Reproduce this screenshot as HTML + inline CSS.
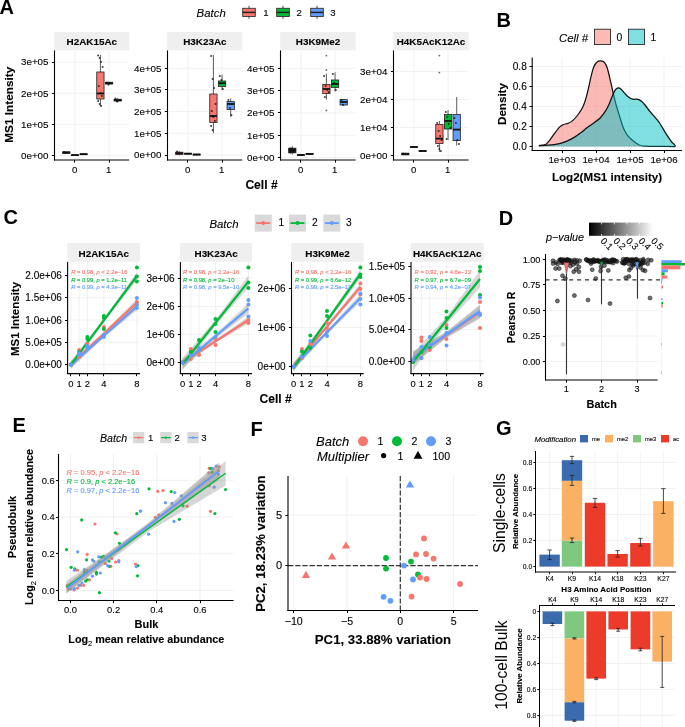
<!DOCTYPE html>
<html><head><meta charset="utf-8"><title>Figure</title>
<style>html,body{margin:0;padding:0;background:#fff;width:685px;height:727px;overflow:hidden}svg{display:block;will-change:transform}</style>
</head><body>
<svg width="685" height="727" viewBox="0 0 685 727" font-family='"Liberation Sans", sans-serif'>
<rect width="685" height="727" fill="#fff"/>
<text x="-0.6" y="13.7" font-size="20" font-weight="bold" fill="#000">A</text>
<text x="196.6" y="16.6" font-size="11.4" font-style="italic" fill="#000" stroke="#000" stroke-width="0.18" stroke-opacity="0.6">Batch</text>
<line x1="249" y1="5.8" x2="249" y2="18.8" stroke="#333" stroke-width="0.9"/>
<rect x="242.7" y="8.3" width="12.6" height="8.2" fill="#F8766D" stroke="#333" stroke-width="0.9"/>
<line x1="242.7" y1="12.4" x2="255.3" y2="12.4" stroke="#222" stroke-width="1.5"/>
<text x="263.2" y="16.4" font-size="9.6" fill="#000" stroke="#000" stroke-width="0.18" stroke-opacity="0.6">1</text>
<line x1="283" y1="5.8" x2="283" y2="18.8" stroke="#333" stroke-width="0.9"/>
<rect x="276.7" y="8.3" width="12.6" height="8.2" fill="#00BA38" stroke="#333" stroke-width="0.9"/>
<line x1="276.7" y1="12.4" x2="289.3" y2="12.4" stroke="#222" stroke-width="1.5"/>
<text x="296.6" y="16.4" font-size="9.6" fill="#000" stroke="#000" stroke-width="0.18" stroke-opacity="0.6">2</text>
<line x1="317" y1="5.8" x2="317" y2="18.8" stroke="#333" stroke-width="0.9"/>
<rect x="310.7" y="8.3" width="12.6" height="8.2" fill="#619CFF" stroke="#333" stroke-width="0.9"/>
<line x1="310.7" y1="12.4" x2="323.3" y2="12.4" stroke="#222" stroke-width="1.5"/>
<text x="330.2" y="16.4" font-size="9.6" fill="#000" stroke="#000" stroke-width="0.18" stroke-opacity="0.6">3</text>
<rect x="54.2" y="32" width="75" height="18.3" fill="#EFEFEF"/>
<text x="91.85" y="44.9" font-size="9.9" font-weight="bold" text-anchor="middle" fill="#000" stroke="#000" stroke-width="0.18" stroke-opacity="0.6">H2AK15Ac</text>
<line x1="74.95" y1="50.4" x2="74.95" y2="160" stroke="#EBEBEB" stroke-width="0.7"/>
<line x1="109.05" y1="50.4" x2="109.05" y2="160" stroke="#EBEBEB" stroke-width="0.7"/>
<line x1="54.5" y1="155.6" x2="129.2" y2="155.6" stroke="#EBEBEB" stroke-width="0.7"/>
<line x1="51.9" y1="155.5" x2="54.5" y2="155.5" stroke="#000" stroke-width="1"/>
<text x="48.5" y="159.03" font-size="9.8" text-anchor="end" fill="#000" stroke="#000" stroke-width="0.18" stroke-opacity="0.6">0e+00</text>
<line x1="54.5" y1="124.4" x2="129.2" y2="124.4" stroke="#EBEBEB" stroke-width="0.7"/>
<line x1="51.9" y1="124.5" x2="54.5" y2="124.5" stroke="#000" stroke-width="1"/>
<text x="48.5" y="127.83" font-size="9.8" text-anchor="end" fill="#000" stroke="#000" stroke-width="0.18" stroke-opacity="0.6">1e+05</text>
<line x1="54.5" y1="93.2" x2="129.2" y2="93.2" stroke="#EBEBEB" stroke-width="0.7"/>
<line x1="51.9" y1="93.5" x2="54.5" y2="93.5" stroke="#000" stroke-width="1"/>
<text x="48.5" y="96.63" font-size="9.8" text-anchor="end" fill="#000" stroke="#000" stroke-width="0.18" stroke-opacity="0.6">2e+05</text>
<line x1="54.5" y1="62" x2="129.2" y2="62" stroke="#EBEBEB" stroke-width="0.7"/>
<line x1="51.9" y1="62.5" x2="54.5" y2="62.5" stroke="#000" stroke-width="1"/>
<text x="48.5" y="65.43" font-size="9.8" text-anchor="end" fill="#000" stroke="#000" stroke-width="0.18" stroke-opacity="0.6">3e+05</text>
<line x1="66.3" y1="151.2" x2="66.3" y2="151.8" stroke="#333" stroke-width="0.8"/>
<line x1="66.3" y1="153.4" x2="66.3" y2="154" stroke="#333" stroke-width="0.8"/>
<rect x="62.65" y="151.8" width="7.3" height="1.6" fill="#F8766D" stroke="#222" stroke-width="0.8"/>
<line x1="62.65" y1="152.6" x2="69.95" y2="152.6" stroke="#111" stroke-width="1.8"/>
<circle cx="64.05" cy="152" r="1" fill="#111" fill-opacity="0.8"/>
<circle cx="65.55" cy="153" r="1" fill="#111" fill-opacity="0.8"/>
<line x1="74.95" y1="154.5" x2="74.95" y2="154.8" stroke="#333" stroke-width="0.8"/>
<line x1="74.95" y1="155.5" x2="74.95" y2="155.8" stroke="#333" stroke-width="0.8"/>
<rect x="71.3" y="154.8" width="7.3" height="0.8" fill="#00BA38" stroke="#222" stroke-width="0.8"/>
<line x1="71.3" y1="155.1" x2="78.6" y2="155.1" stroke="#111" stroke-width="1.8"/>
<line x1="83.6" y1="153.4" x2="83.6" y2="153.8" stroke="#333" stroke-width="0.8"/>
<line x1="83.6" y1="154.6" x2="83.6" y2="155" stroke="#333" stroke-width="0.8"/>
<rect x="79.95" y="153.8" width="7.3" height="0.8" fill="#619CFF" stroke="#222" stroke-width="0.8"/>
<line x1="79.95" y1="154.2" x2="87.25" y2="154.2" stroke="#111" stroke-width="1.8"/>
<line x1="100.4" y1="55" x2="100.4" y2="72" stroke="#333" stroke-width="0.8"/>
<line x1="100.4" y1="99" x2="100.4" y2="106" stroke="#333" stroke-width="0.8"/>
<rect x="96.75" y="72" width="7.3" height="27" fill="#F8766D" stroke="#222" stroke-width="0.8"/>
<line x1="96.75" y1="93.5" x2="104.05" y2="93.5" stroke="#111" stroke-width="1.8"/>
<circle cx="98.15" cy="55.5" r="1" fill="#111" fill-opacity="0.8"/>
<circle cx="99.65" cy="58" r="1" fill="#111" fill-opacity="0.8"/>
<circle cx="101.15" cy="62" r="1" fill="#111" fill-opacity="0.8"/>
<circle cx="102.65" cy="67" r="1" fill="#111" fill-opacity="0.8"/>
<circle cx="98.9" cy="86" r="1" fill="#111" fill-opacity="0.8"/>
<circle cx="100.4" cy="93" r="1" fill="#111" fill-opacity="0.8"/>
<circle cx="101.9" cy="96" r="1" fill="#111" fill-opacity="0.8"/>
<circle cx="98.15" cy="101" r="1" fill="#111" fill-opacity="0.8"/>
<circle cx="99.65" cy="104" r="1" fill="#111" fill-opacity="0.8"/>
<circle cx="101.15" cy="106" r="1" fill="#111" fill-opacity="0.8"/>
<line x1="109.05" y1="81.5" x2="109.05" y2="82.3" stroke="#333" stroke-width="0.8"/>
<line x1="109.05" y1="84" x2="109.05" y2="85.2" stroke="#333" stroke-width="0.8"/>
<rect x="105.4" y="82.3" width="7.3" height="1.7" fill="#00BA38" stroke="#222" stroke-width="0.8"/>
<line x1="105.4" y1="83.2" x2="112.7" y2="83.2" stroke="#111" stroke-width="1.8"/>
<circle cx="106.8" cy="82.6" r="1" fill="#111" fill-opacity="0.8"/>
<circle cx="108.3" cy="84.5" r="1" fill="#111" fill-opacity="0.8"/>
<line x1="117.7" y1="98" x2="117.7" y2="99.3" stroke="#333" stroke-width="0.8"/>
<line x1="117.7" y1="101" x2="117.7" y2="102.4" stroke="#333" stroke-width="0.8"/>
<rect x="114.05" y="99.3" width="7.3" height="1.7" fill="#619CFF" stroke="#222" stroke-width="0.8"/>
<line x1="114.05" y1="100.2" x2="121.35" y2="100.2" stroke="#111" stroke-width="1.8"/>
<circle cx="115.45" cy="98.6" r="1" fill="#111" fill-opacity="0.8"/>
<circle cx="116.95" cy="101.6" r="1" fill="#111" fill-opacity="0.8"/>
<line x1="54.5" y1="50.4" x2="54.5" y2="160.5" stroke="#000" stroke-width="1.1"/>
<line x1="54" y1="160" x2="129.2" y2="160" stroke="#000" stroke-width="1.1"/>
<line x1="74.5" y1="160" x2="74.5" y2="162.6" stroke="#000" stroke-width="1"/>
<text x="74.55" y="172.6" font-size="9.6" text-anchor="middle" fill="#000" stroke="#000" stroke-width="0.18" stroke-opacity="0.6">0</text>
<line x1="109.5" y1="160" x2="109.5" y2="162.6" stroke="#000" stroke-width="1"/>
<text x="108.65" y="172.6" font-size="9.6" text-anchor="middle" fill="#000" stroke="#000" stroke-width="0.18" stroke-opacity="0.6">1</text>
<rect x="167.2" y="32" width="75" height="18.3" fill="#EFEFEF"/>
<text x="204.85" y="44.9" font-size="9.9" font-weight="bold" text-anchor="middle" fill="#000" stroke="#000" stroke-width="0.18" stroke-opacity="0.6">H3K23Ac</text>
<line x1="187.95" y1="50.4" x2="187.95" y2="160" stroke="#EBEBEB" stroke-width="0.7"/>
<line x1="222.05" y1="50.4" x2="222.05" y2="160" stroke="#EBEBEB" stroke-width="0.7"/>
<line x1="167.5" y1="155" x2="242.2" y2="155" stroke="#EBEBEB" stroke-width="0.7"/>
<line x1="164.9" y1="155.5" x2="167.5" y2="155.5" stroke="#000" stroke-width="1"/>
<text x="161.5" y="158.43" font-size="9.8" text-anchor="end" fill="#000" stroke="#000" stroke-width="0.18" stroke-opacity="0.6">0e+00</text>
<line x1="167.5" y1="133.3" x2="242.2" y2="133.3" stroke="#EBEBEB" stroke-width="0.7"/>
<line x1="164.9" y1="133.5" x2="167.5" y2="133.5" stroke="#000" stroke-width="1"/>
<text x="161.5" y="136.73" font-size="9.8" text-anchor="end" fill="#000" stroke="#000" stroke-width="0.18" stroke-opacity="0.6">1e+05</text>
<line x1="167.5" y1="111.6" x2="242.2" y2="111.6" stroke="#EBEBEB" stroke-width="0.7"/>
<line x1="164.9" y1="111.5" x2="167.5" y2="111.5" stroke="#000" stroke-width="1"/>
<text x="161.5" y="115.03" font-size="9.8" text-anchor="end" fill="#000" stroke="#000" stroke-width="0.18" stroke-opacity="0.6">2e+05</text>
<line x1="167.5" y1="89.9" x2="242.2" y2="89.9" stroke="#EBEBEB" stroke-width="0.7"/>
<line x1="164.9" y1="89.5" x2="167.5" y2="89.5" stroke="#000" stroke-width="1"/>
<text x="161.5" y="93.33" font-size="9.8" text-anchor="end" fill="#000" stroke="#000" stroke-width="0.18" stroke-opacity="0.6">3e+05</text>
<line x1="167.5" y1="68.2" x2="242.2" y2="68.2" stroke="#EBEBEB" stroke-width="0.7"/>
<line x1="164.9" y1="68.5" x2="167.5" y2="68.5" stroke="#000" stroke-width="1"/>
<text x="161.5" y="71.63" font-size="9.8" text-anchor="end" fill="#000" stroke="#000" stroke-width="0.18" stroke-opacity="0.6">4e+05</text>
<line x1="179.3" y1="151" x2="179.3" y2="152.2" stroke="#333" stroke-width="0.8"/>
<line x1="179.3" y1="154.4" x2="179.3" y2="155.4" stroke="#333" stroke-width="0.8"/>
<rect x="175.65" y="152.2" width="7.3" height="2.2" fill="#F8766D" stroke="#222" stroke-width="0.8"/>
<line x1="175.65" y1="153.2" x2="182.95" y2="153.2" stroke="#111" stroke-width="1.8"/>
<circle cx="177.05" cy="151.4" r="1" fill="#111" fill-opacity="0.8"/>
<line x1="187.95" y1="153" x2="187.95" y2="153.3" stroke="#333" stroke-width="0.8"/>
<line x1="187.95" y1="154.1" x2="187.95" y2="154.4" stroke="#333" stroke-width="0.8"/>
<rect x="184.3" y="153.3" width="7.3" height="0.8" fill="#00BA38" stroke="#222" stroke-width="0.8"/>
<line x1="184.3" y1="153.7" x2="191.6" y2="153.7" stroke="#111" stroke-width="1.8"/>
<line x1="196.6" y1="154" x2="196.6" y2="154.2" stroke="#333" stroke-width="0.8"/>
<line x1="196.6" y1="154.9" x2="196.6" y2="155.2" stroke="#333" stroke-width="0.8"/>
<rect x="192.95" y="154.2" width="7.3" height="0.8" fill="#619CFF" stroke="#222" stroke-width="0.8"/>
<line x1="192.95" y1="154.5" x2="200.25" y2="154.5" stroke="#111" stroke-width="1.8"/>
<line x1="213.4" y1="55" x2="213.4" y2="94" stroke="#333" stroke-width="0.8"/>
<line x1="213.4" y1="122.4" x2="213.4" y2="133" stroke="#333" stroke-width="0.8"/>
<rect x="209.75" y="94" width="7.3" height="28.4" fill="#F8766D" stroke="#222" stroke-width="0.8"/>
<line x1="209.75" y1="116" x2="217.05" y2="116" stroke="#111" stroke-width="1.8"/>
<circle cx="211.15" cy="56" r="1" fill="#111" fill-opacity="0.8"/>
<circle cx="212.65" cy="79" r="1" fill="#111" fill-opacity="0.8"/>
<circle cx="214.15" cy="88" r="1" fill="#111" fill-opacity="0.8"/>
<circle cx="215.65" cy="104" r="1" fill="#111" fill-opacity="0.8"/>
<circle cx="211.9" cy="111" r="1" fill="#111" fill-opacity="0.8"/>
<circle cx="213.4" cy="117" r="1" fill="#111" fill-opacity="0.8"/>
<circle cx="214.9" cy="121" r="1" fill="#111" fill-opacity="0.8"/>
<circle cx="211.15" cy="126" r="1" fill="#111" fill-opacity="0.8"/>
<circle cx="212.65" cy="130" r="1" fill="#111" fill-opacity="0.8"/>
<line x1="222.05" y1="74.6" x2="222.05" y2="81" stroke="#333" stroke-width="0.8"/>
<line x1="222.05" y1="86.4" x2="222.05" y2="90" stroke="#333" stroke-width="0.8"/>
<rect x="218.4" y="81" width="7.3" height="5.4" fill="#00BA38" stroke="#222" stroke-width="0.8"/>
<line x1="218.4" y1="83.2" x2="225.7" y2="83.2" stroke="#111" stroke-width="1.8"/>
<circle cx="219.8" cy="76" r="1" fill="#111" fill-opacity="0.8"/>
<circle cx="221.3" cy="80" r="1" fill="#111" fill-opacity="0.8"/>
<circle cx="222.8" cy="89" r="1" fill="#111" fill-opacity="0.8"/>
<line x1="230.7" y1="98.4" x2="230.7" y2="101.6" stroke="#333" stroke-width="0.8"/>
<line x1="230.7" y1="109.6" x2="230.7" y2="117" stroke="#333" stroke-width="0.8"/>
<rect x="227.05" y="101.6" width="7.3" height="8" fill="#619CFF" stroke="#222" stroke-width="0.8"/>
<line x1="227.05" y1="104" x2="234.35" y2="104" stroke="#111" stroke-width="1.8"/>
<circle cx="228.45" cy="100" r="1" fill="#111" fill-opacity="0.8"/>
<circle cx="229.95" cy="108" r="1" fill="#111" fill-opacity="0.8"/>
<circle cx="231.45" cy="115" r="1" fill="#111" fill-opacity="0.8"/>
<line x1="167.5" y1="50.4" x2="167.5" y2="160.5" stroke="#000" stroke-width="1.1"/>
<line x1="167" y1="160" x2="242.2" y2="160" stroke="#000" stroke-width="1.1"/>
<line x1="187.5" y1="160" x2="187.5" y2="162.6" stroke="#000" stroke-width="1"/>
<text x="187.55" y="172.6" font-size="9.6" text-anchor="middle" fill="#000" stroke="#000" stroke-width="0.18" stroke-opacity="0.6">0</text>
<line x1="222.5" y1="160" x2="222.5" y2="162.6" stroke="#000" stroke-width="1"/>
<text x="221.65" y="172.6" font-size="9.6" text-anchor="middle" fill="#000" stroke="#000" stroke-width="0.18" stroke-opacity="0.6">1</text>
<rect x="280.2" y="32" width="75.4" height="18.3" fill="#EFEFEF"/>
<text x="318.05" y="44.9" font-size="9.9" font-weight="bold" text-anchor="middle" fill="#000" stroke="#000" stroke-width="0.18" stroke-opacity="0.6">H3K9Me2</text>
<line x1="300.95" y1="50.4" x2="300.95" y2="160" stroke="#EBEBEB" stroke-width="0.7"/>
<line x1="335.05" y1="50.4" x2="335.05" y2="160" stroke="#EBEBEB" stroke-width="0.7"/>
<line x1="280.5" y1="157.5" x2="355.6" y2="157.5" stroke="#EBEBEB" stroke-width="0.7"/>
<line x1="277.9" y1="157.5" x2="280.5" y2="157.5" stroke="#000" stroke-width="1"/>
<text x="274.5" y="160.93" font-size="9.8" text-anchor="end" fill="#000" stroke="#000" stroke-width="0.18" stroke-opacity="0.6">0e+00</text>
<line x1="280.5" y1="135.2" x2="355.6" y2="135.2" stroke="#EBEBEB" stroke-width="0.7"/>
<line x1="277.9" y1="135.5" x2="280.5" y2="135.5" stroke="#000" stroke-width="1"/>
<text x="274.5" y="138.63" font-size="9.8" text-anchor="end" fill="#000" stroke="#000" stroke-width="0.18" stroke-opacity="0.6">1e+05</text>
<line x1="280.5" y1="112.9" x2="355.6" y2="112.9" stroke="#EBEBEB" stroke-width="0.7"/>
<line x1="277.9" y1="112.5" x2="280.5" y2="112.5" stroke="#000" stroke-width="1"/>
<text x="274.5" y="116.33" font-size="9.8" text-anchor="end" fill="#000" stroke="#000" stroke-width="0.18" stroke-opacity="0.6">2e+05</text>
<line x1="280.5" y1="90.6" x2="355.6" y2="90.6" stroke="#EBEBEB" stroke-width="0.7"/>
<line x1="277.9" y1="90.5" x2="280.5" y2="90.5" stroke="#000" stroke-width="1"/>
<text x="274.5" y="94.03" font-size="9.8" text-anchor="end" fill="#000" stroke="#000" stroke-width="0.18" stroke-opacity="0.6">3e+05</text>
<line x1="280.5" y1="68.3" x2="355.6" y2="68.3" stroke="#EBEBEB" stroke-width="0.7"/>
<line x1="277.9" y1="68.5" x2="280.5" y2="68.5" stroke="#000" stroke-width="1"/>
<text x="274.5" y="71.73" font-size="9.8" text-anchor="end" fill="#000" stroke="#000" stroke-width="0.18" stroke-opacity="0.6">4e+05</text>
<line x1="292.3" y1="146.1" x2="292.3" y2="148.2" stroke="#333" stroke-width="0.8"/>
<line x1="292.3" y1="152.8" x2="292.3" y2="154.6" stroke="#333" stroke-width="0.8"/>
<rect x="288.65" y="148.2" width="7.3" height="4.6" fill="#3a2624" stroke="#222" stroke-width="0.8"/>
<line x1="288.65" y1="150.4" x2="295.95" y2="150.4" stroke="#111" stroke-width="1.8"/>
<circle cx="290.05" cy="148.4" r="1" fill="#111" fill-opacity="0.8"/>
<circle cx="291.55" cy="149" r="1" fill="#111" fill-opacity="0.8"/>
<circle cx="293.05" cy="149.6" r="1" fill="#111" fill-opacity="0.8"/>
<circle cx="294.55" cy="150.2" r="1" fill="#111" fill-opacity="0.8"/>
<circle cx="290.8" cy="150.8" r="1" fill="#111" fill-opacity="0.8"/>
<circle cx="292.3" cy="151.4" r="1" fill="#111" fill-opacity="0.8"/>
<circle cx="293.8" cy="152" r="1" fill="#111" fill-opacity="0.8"/>
<circle cx="290.05" cy="152.6" r="1" fill="#111" fill-opacity="0.8"/>
<circle cx="291.55" cy="148.8" r="1" fill="#111" fill-opacity="0.8"/>
<circle cx="293.05" cy="151" r="1" fill="#111" fill-opacity="0.8"/>
<circle cx="294.55" cy="149.4" r="1" fill="#111" fill-opacity="0.8"/>
<circle cx="290.8" cy="152.2" r="1" fill="#111" fill-opacity="0.8"/>
<circle cx="292.3" cy="150" r="1" fill="#111" fill-opacity="0.8"/>
<circle cx="293.8" cy="151.8" r="1" fill="#111" fill-opacity="0.8"/>
<line x1="300.95" y1="154.3" x2="300.95" y2="154.6" stroke="#333" stroke-width="0.8"/>
<line x1="300.95" y1="155.4" x2="300.95" y2="155.7" stroke="#333" stroke-width="0.8"/>
<rect x="297.3" y="154.6" width="7.3" height="0.8" fill="#00BA38" stroke="#222" stroke-width="0.8"/>
<line x1="297.3" y1="155" x2="304.6" y2="155" stroke="#111" stroke-width="1.8"/>
<line x1="309.6" y1="153.3" x2="309.6" y2="153.6" stroke="#333" stroke-width="0.8"/>
<line x1="309.6" y1="154.4" x2="309.6" y2="154.7" stroke="#333" stroke-width="0.8"/>
<rect x="305.95" y="153.6" width="7.3" height="0.8" fill="#619CFF" stroke="#222" stroke-width="0.8"/>
<line x1="305.95" y1="154" x2="313.25" y2="154" stroke="#111" stroke-width="1.8"/>
<line x1="326.4" y1="73.6" x2="326.4" y2="84.4" stroke="#333" stroke-width="0.8"/>
<line x1="326.4" y1="93.6" x2="326.4" y2="99.6" stroke="#333" stroke-width="0.8"/>
<rect x="322.75" y="84.4" width="7.3" height="9.2" fill="#F8766D" stroke="#222" stroke-width="0.8"/>
<line x1="322.75" y1="89" x2="330.05" y2="89" stroke="#111" stroke-width="1.8"/>
<circle cx="326.4" cy="55.6" r="0.9" fill="#666"/>
<circle cx="326.4" cy="70" r="0.9" fill="#666"/>
<circle cx="326.4" cy="110.4" r="0.9" fill="#666"/>
<circle cx="324.15" cy="76" r="1" fill="#111" fill-opacity="0.8"/>
<circle cx="325.65" cy="86" r="1" fill="#111" fill-opacity="0.8"/>
<circle cx="327.15" cy="90" r="1" fill="#111" fill-opacity="0.8"/>
<circle cx="328.65" cy="92" r="1" fill="#111" fill-opacity="0.8"/>
<circle cx="324.9" cy="97" r="1" fill="#111" fill-opacity="0.8"/>
<line x1="335.05" y1="72.4" x2="335.05" y2="80" stroke="#333" stroke-width="0.8"/>
<line x1="335.05" y1="87.4" x2="335.05" y2="91.6" stroke="#333" stroke-width="0.8"/>
<rect x="331.4" y="80" width="7.3" height="7.4" fill="#00BA38" stroke="#222" stroke-width="0.8"/>
<line x1="331.4" y1="84" x2="338.7" y2="84" stroke="#111" stroke-width="1.8"/>
<circle cx="332.8" cy="74" r="1" fill="#111" fill-opacity="0.8"/>
<circle cx="334.3" cy="83" r="1" fill="#111" fill-opacity="0.8"/>
<circle cx="335.8" cy="90" r="1" fill="#111" fill-opacity="0.8"/>
<line x1="343.7" y1="99" x2="343.7" y2="99.6" stroke="#333" stroke-width="0.8"/>
<line x1="343.7" y1="105" x2="343.7" y2="106" stroke="#333" stroke-width="0.8"/>
<rect x="340.05" y="99.6" width="7.3" height="5.4" fill="#619CFF" stroke="#222" stroke-width="0.8"/>
<line x1="340.05" y1="102" x2="347.35" y2="102" stroke="#111" stroke-width="1.8"/>
<circle cx="341.45" cy="100" r="1" fill="#111" fill-opacity="0.8"/>
<circle cx="342.95" cy="104.8" r="1" fill="#111" fill-opacity="0.8"/>
<line x1="280.5" y1="50.4" x2="280.5" y2="160.5" stroke="#000" stroke-width="1.1"/>
<line x1="280" y1="160" x2="355.6" y2="160" stroke="#000" stroke-width="1.1"/>
<line x1="300.5" y1="160" x2="300.5" y2="162.6" stroke="#000" stroke-width="1"/>
<text x="300.55" y="172.6" font-size="9.6" text-anchor="middle" fill="#000" stroke="#000" stroke-width="0.18" stroke-opacity="0.6">0</text>
<line x1="335.5" y1="160" x2="335.5" y2="162.6" stroke="#000" stroke-width="1"/>
<text x="334.65" y="172.6" font-size="9.6" text-anchor="middle" fill="#000" stroke="#000" stroke-width="0.18" stroke-opacity="0.6">1</text>
<rect x="393.2" y="32" width="75.4" height="18.3" fill="#EFEFEF"/>
<text x="431.05" y="44.9" font-size="9.9" font-weight="bold" text-anchor="middle" fill="#000" stroke="#000" stroke-width="0.18" stroke-opacity="0.6">H4K5AcK12Ac</text>
<line x1="413.95" y1="50.4" x2="413.95" y2="160" stroke="#EBEBEB" stroke-width="0.7"/>
<line x1="448.05" y1="50.4" x2="448.05" y2="160" stroke="#EBEBEB" stroke-width="0.7"/>
<line x1="393.5" y1="155.6" x2="468.6" y2="155.6" stroke="#EBEBEB" stroke-width="0.7"/>
<line x1="390.9" y1="155.5" x2="393.5" y2="155.5" stroke="#000" stroke-width="1"/>
<text x="387.5" y="159.03" font-size="9.8" text-anchor="end" fill="#000" stroke="#000" stroke-width="0.18" stroke-opacity="0.6">0e+00</text>
<line x1="393.5" y1="127.6" x2="468.6" y2="127.6" stroke="#EBEBEB" stroke-width="0.7"/>
<line x1="390.9" y1="127.5" x2="393.5" y2="127.5" stroke="#000" stroke-width="1"/>
<text x="387.5" y="131.03" font-size="9.8" text-anchor="end" fill="#000" stroke="#000" stroke-width="0.18" stroke-opacity="0.6">1e+04</text>
<line x1="393.5" y1="99.6" x2="468.6" y2="99.6" stroke="#EBEBEB" stroke-width="0.7"/>
<line x1="390.9" y1="99.5" x2="393.5" y2="99.5" stroke="#000" stroke-width="1"/>
<text x="387.5" y="103.03" font-size="9.8" text-anchor="end" fill="#000" stroke="#000" stroke-width="0.18" stroke-opacity="0.6">2e+04</text>
<line x1="393.5" y1="71.6" x2="468.6" y2="71.6" stroke="#EBEBEB" stroke-width="0.7"/>
<line x1="390.9" y1="71.5" x2="393.5" y2="71.5" stroke="#000" stroke-width="1"/>
<text x="387.5" y="75.03" font-size="9.8" text-anchor="end" fill="#000" stroke="#000" stroke-width="0.18" stroke-opacity="0.6">3e+04</text>
<line x1="405.3" y1="152.8" x2="405.3" y2="153.2" stroke="#333" stroke-width="0.8"/>
<line x1="405.3" y1="154.8" x2="405.3" y2="155.2" stroke="#333" stroke-width="0.8"/>
<rect x="401.65" y="153.2" width="7.3" height="1.6" fill="#F8766D" stroke="#222" stroke-width="0.8"/>
<line x1="401.65" y1="154" x2="408.95" y2="154" stroke="#111" stroke-width="1.8"/>
<circle cx="403.05" cy="153.5" r="1" fill="#111" fill-opacity="0.8"/>
<line x1="413.95" y1="146.4" x2="413.95" y2="146.6" stroke="#333" stroke-width="0.8"/>
<line x1="413.95" y1="147.4" x2="413.95" y2="147.6" stroke="#333" stroke-width="0.8"/>
<rect x="410.3" y="146.6" width="7.3" height="0.8" fill="#00BA38" stroke="#222" stroke-width="0.8"/>
<line x1="410.3" y1="147" x2="417.6" y2="147" stroke="#111" stroke-width="1.8"/>
<line x1="422.6" y1="150.4" x2="422.6" y2="150.6" stroke="#333" stroke-width="0.8"/>
<line x1="422.6" y1="151.4" x2="422.6" y2="151.6" stroke="#333" stroke-width="0.8"/>
<rect x="418.95" y="150.6" width="7.3" height="0.8" fill="#619CFF" stroke="#222" stroke-width="0.8"/>
<line x1="418.95" y1="151" x2="426.25" y2="151" stroke="#111" stroke-width="1.8"/>
<line x1="439.4" y1="121" x2="439.4" y2="124.4" stroke="#333" stroke-width="0.8"/>
<line x1="439.4" y1="143.4" x2="439.4" y2="152" stroke="#333" stroke-width="0.8"/>
<rect x="435.75" y="124.4" width="7.3" height="19" fill="#F8766D" stroke="#222" stroke-width="0.8"/>
<line x1="435.75" y1="138.6" x2="443.05" y2="138.6" stroke="#111" stroke-width="1.8"/>
<circle cx="439.4" cy="55.6" r="0.9" fill="#666"/>
<circle cx="439.4" cy="72.6" r="0.9" fill="#666"/>
<circle cx="437.15" cy="123" r="1" fill="#111" fill-opacity="0.8"/>
<circle cx="438.65" cy="131" r="1" fill="#111" fill-opacity="0.8"/>
<circle cx="440.15" cy="136" r="1" fill="#111" fill-opacity="0.8"/>
<circle cx="441.65" cy="140" r="1" fill="#111" fill-opacity="0.8"/>
<circle cx="437.9" cy="146" r="1" fill="#111" fill-opacity="0.8"/>
<circle cx="439.4" cy="149" r="1" fill="#111" fill-opacity="0.8"/>
<circle cx="440.9" cy="151" r="1" fill="#111" fill-opacity="0.8"/>
<line x1="448.05" y1="110" x2="448.05" y2="114.4" stroke="#333" stroke-width="0.8"/>
<line x1="448.05" y1="129" x2="448.05" y2="140" stroke="#333" stroke-width="0.8"/>
<rect x="444.4" y="114.4" width="7.3" height="14.6" fill="#00BA38" stroke="#222" stroke-width="0.8"/>
<line x1="444.4" y1="121" x2="451.7" y2="121" stroke="#111" stroke-width="1.8"/>
<circle cx="445.8" cy="112" r="1" fill="#111" fill-opacity="0.8"/>
<circle cx="447.3" cy="117" r="1" fill="#111" fill-opacity="0.8"/>
<circle cx="448.8" cy="124" r="1" fill="#111" fill-opacity="0.8"/>
<circle cx="450.3" cy="128" r="1" fill="#111" fill-opacity="0.8"/>
<circle cx="446.55" cy="139" r="1" fill="#111" fill-opacity="0.8"/>
<line x1="456.7" y1="97" x2="456.7" y2="114.4" stroke="#333" stroke-width="0.8"/>
<line x1="456.7" y1="140.6" x2="456.7" y2="145.6" stroke="#333" stroke-width="0.8"/>
<rect x="453.05" y="114.4" width="7.3" height="26.2" fill="#619CFF" stroke="#222" stroke-width="0.8"/>
<line x1="453.05" y1="129.6" x2="460.35" y2="129.6" stroke="#111" stroke-width="1.8"/>
<circle cx="454.45" cy="118" r="1" fill="#111" fill-opacity="0.8"/>
<circle cx="455.95" cy="123" r="1" fill="#111" fill-opacity="0.8"/>
<circle cx="457.45" cy="140" r="1" fill="#111" fill-opacity="0.8"/>
<circle cx="458.95" cy="144" r="1" fill="#111" fill-opacity="0.8"/>
<line x1="393.5" y1="50.4" x2="393.5" y2="160.5" stroke="#000" stroke-width="1.1"/>
<line x1="393" y1="160" x2="468.6" y2="160" stroke="#000" stroke-width="1.1"/>
<line x1="413.5" y1="160" x2="413.5" y2="162.6" stroke="#000" stroke-width="1"/>
<text x="413.55" y="172.6" font-size="9.6" text-anchor="middle" fill="#000" stroke="#000" stroke-width="0.18" stroke-opacity="0.6">0</text>
<line x1="448.5" y1="160" x2="448.5" y2="162.6" stroke="#000" stroke-width="1"/>
<text x="447.65" y="172.6" font-size="9.6" text-anchor="middle" fill="#000" stroke="#000" stroke-width="0.18" stroke-opacity="0.6">1</text>
<text x="13.2" y="104.8" font-size="11.8" font-weight="bold" text-anchor="middle" fill="#000" stroke="#000" stroke-width="0.18" stroke-opacity="0.6" transform="rotate(-90 13.2 104.8)">MS1 Intensity</text>
<text x="245.4" y="188.9" font-size="12.1" font-weight="bold" fill="#000" stroke="#000" stroke-width="0.18" stroke-opacity="0.6">Cell #</text>
<text x="496.4" y="27" font-size="20" font-weight="bold" fill="#000">B</text>
<text x="559" y="41.6" font-size="11.4" font-style="italic" fill="#000" stroke="#000" stroke-width="0.18" stroke-opacity="0.6">Cell #</text>
<rect x="594.6" y="29.2" width="16" height="15.4" fill="#FBBAB6" stroke="#111" stroke-width="0.8"/>
<text x="616.6" y="41" font-size="10.3" fill="#000" stroke="#000" stroke-width="0.18" stroke-opacity="0.6">0</text>
<rect x="628.6" y="29.2" width="16" height="15.4" fill="#7FDFE1" stroke="#111" stroke-width="0.8"/>
<text x="650.4" y="41" font-size="10.3" fill="#000" stroke="#000" stroke-width="0.18" stroke-opacity="0.6">1</text>
<line x1="562" y1="57.4" x2="562" y2="150.5" stroke="#EBEBEB" stroke-width="0.7"/>
<line x1="596" y1="57.4" x2="596" y2="150.5" stroke="#EBEBEB" stroke-width="0.7"/>
<line x1="630" y1="57.4" x2="630" y2="150.5" stroke="#EBEBEB" stroke-width="0.7"/>
<line x1="664" y1="57.4" x2="664" y2="150.5" stroke="#EBEBEB" stroke-width="0.7"/>
<line x1="532.2" y1="146.6" x2="682" y2="146.6" stroke="#EBEBEB" stroke-width="0.7"/>
<line x1="532.2" y1="126.6" x2="682" y2="126.6" stroke="#EBEBEB" stroke-width="0.7"/>
<line x1="532.2" y1="106.6" x2="682" y2="106.6" stroke="#EBEBEB" stroke-width="0.7"/>
<line x1="532.2" y1="86.6" x2="682" y2="86.6" stroke="#EBEBEB" stroke-width="0.7"/>
<line x1="532.2" y1="66.6" x2="682" y2="66.6" stroke="#EBEBEB" stroke-width="0.7"/>
<path d="M538.9 145.6 C540 145.42 543.75 145.33 545.5 144.5 C547.25 143.67 547.88 142.45 549.4 140.6 C550.92 138.75 552.87 135.68 554.6 133.4 C556.33 131.12 558.38 128.35 559.8 126.9 C561.22 125.45 561.68 125.32 563.1 124.7 C564.52 124.08 566.67 123.92 568.3 123.2 C569.93 122.48 571.27 121.85 572.9 120.4 C574.53 118.95 576.47 116.68 578.1 114.5 C579.73 112.32 581.38 110.03 582.7 107.3 C584.02 104.57 585.02 101.37 586 98.1 C586.98 94.83 587.73 91.4 588.6 87.7 C589.47 84 590.33 79.38 591.2 75.9 C592.07 72.42 592.77 69.15 593.8 66.8 C594.83 64.45 596.2 62.78 597.4 61.8 C598.6 60.82 599.8 60.77 601 60.9 C602.2 61.03 603.53 61.33 604.6 62.6 C605.67 63.87 606.42 65.42 607.4 68.5 C608.38 71.58 609.55 77.03 610.5 81.1 C611.45 85.17 612.23 89.18 613.1 92.9 C613.97 96.62 614.62 99.48 615.7 103.4 C616.78 107.32 618.3 112.27 619.6 116.4 C620.9 120.53 622.18 125.03 623.5 128.2 C624.82 131.37 625.97 133.33 627.5 135.4 C629.03 137.47 630.75 139 632.7 140.6 C634.65 142.2 637.02 144.08 639.2 145 C641.38 145.92 642.33 145.87 645.8 146.1 C649.27 146.33 655.1 146.33 660 146.4 C664.9 146.47 672.67 146.48 675.2 146.5 L675.6 146.6 L538.9 146.6 Z" fill="#F8766D" fill-opacity="0.5"/>
<path d="M538.9 145.6 C540 145.42 543.75 145.33 545.5 144.5 C547.25 143.67 547.88 142.45 549.4 140.6 C550.92 138.75 552.87 135.68 554.6 133.4 C556.33 131.12 558.38 128.35 559.8 126.9 C561.22 125.45 561.68 125.32 563.1 124.7 C564.52 124.08 566.67 123.92 568.3 123.2 C569.93 122.48 571.27 121.85 572.9 120.4 C574.53 118.95 576.47 116.68 578.1 114.5 C579.73 112.32 581.38 110.03 582.7 107.3 C584.02 104.57 585.02 101.37 586 98.1 C586.98 94.83 587.73 91.4 588.6 87.7 C589.47 84 590.33 79.38 591.2 75.9 C592.07 72.42 592.77 69.15 593.8 66.8 C594.83 64.45 596.2 62.78 597.4 61.8 C598.6 60.82 599.8 60.77 601 60.9 C602.2 61.03 603.53 61.33 604.6 62.6 C605.67 63.87 606.42 65.42 607.4 68.5 C608.38 71.58 609.55 77.03 610.5 81.1 C611.45 85.17 612.23 89.18 613.1 92.9 C613.97 96.62 614.62 99.48 615.7 103.4 C616.78 107.32 618.3 112.27 619.6 116.4 C620.9 120.53 622.18 125.03 623.5 128.2 C624.82 131.37 625.97 133.33 627.5 135.4 C629.03 137.47 630.75 139 632.7 140.6 C634.65 142.2 637.02 144.08 639.2 145 C641.38 145.92 642.33 145.87 645.8 146.1 C649.27 146.33 655.1 146.33 660 146.4 C664.9 146.47 672.67 146.48 675.2 146.5" fill="none" stroke="#111" stroke-width="1.25"/>
<path d="M538.9 145.6 C540.42 145.53 544.73 145.48 548 145.2 C551.27 144.92 555.43 144.55 558.5 143.9 C561.57 143.25 563.78 142.38 566.4 141.3 C569.02 140.22 571.8 138.82 574.2 137.4 C576.6 135.98 578.62 134.45 580.8 132.8 C582.98 131.15 585.13 129.13 587.3 127.5 C589.47 125.87 591.62 124.63 593.8 123 C595.98 121.37 598.47 119.67 600.4 117.7 C602.33 115.73 603.9 113.58 605.4 111.2 C606.9 108.82 608.12 106.23 609.4 103.4 C610.68 100.57 612.05 96.53 613.1 94.2 C614.15 91.87 614.83 90.47 615.7 89.4 C616.57 88.33 617.43 87.87 618.3 87.8 C619.17 87.73 619.82 88.07 620.9 89 C621.98 89.93 623.48 92.02 624.8 93.4 C626.12 94.78 627.48 96.33 628.8 97.3 C630.12 98.27 631.18 98.87 632.7 99.2 C634.22 99.53 636.38 98.93 637.9 99.3 C639.42 99.67 640.48 100.28 641.8 101.4 C643.12 102.52 644.48 104.37 645.8 106 C647.12 107.63 648.18 109.35 649.7 111.2 C651.22 113.05 653.38 115.32 654.9 117.1 C656.42 118.88 657.5 120.05 658.8 121.9 C660.1 123.75 661.38 126.07 662.7 128.2 C664.02 130.33 665.28 132.52 666.7 134.7 C668.12 136.88 669.92 139.65 671.2 141.3 C672.48 142.95 673.67 143.77 674.4 144.6 C675.13 145.43 675.4 146.02 675.6 146.3 L675.6 146.6 L538.9 146.6 Z" fill="#00BFC4" fill-opacity="0.5"/>
<path d="M538.9 145.6 C540.42 145.53 544.73 145.48 548 145.2 C551.27 144.92 555.43 144.55 558.5 143.9 C561.57 143.25 563.78 142.38 566.4 141.3 C569.02 140.22 571.8 138.82 574.2 137.4 C576.6 135.98 578.62 134.45 580.8 132.8 C582.98 131.15 585.13 129.13 587.3 127.5 C589.47 125.87 591.62 124.63 593.8 123 C595.98 121.37 598.47 119.67 600.4 117.7 C602.33 115.73 603.9 113.58 605.4 111.2 C606.9 108.82 608.12 106.23 609.4 103.4 C610.68 100.57 612.05 96.53 613.1 94.2 C614.15 91.87 614.83 90.47 615.7 89.4 C616.57 88.33 617.43 87.87 618.3 87.8 C619.17 87.73 619.82 88.07 620.9 89 C621.98 89.93 623.48 92.02 624.8 93.4 C626.12 94.78 627.48 96.33 628.8 97.3 C630.12 98.27 631.18 98.87 632.7 99.2 C634.22 99.53 636.38 98.93 637.9 99.3 C639.42 99.67 640.48 100.28 641.8 101.4 C643.12 102.52 644.48 104.37 645.8 106 C647.12 107.63 648.18 109.35 649.7 111.2 C651.22 113.05 653.38 115.32 654.9 117.1 C656.42 118.88 657.5 120.05 658.8 121.9 C660.1 123.75 661.38 126.07 662.7 128.2 C664.02 130.33 665.28 132.52 666.7 134.7 C668.12 136.88 669.92 139.65 671.2 141.3 C672.48 142.95 673.67 143.77 674.4 144.6 C675.13 145.43 675.4 146.02 675.6 146.3" fill="none" stroke="#111" stroke-width="1.25"/>
<line x1="532.2" y1="57.4" x2="532.2" y2="151" stroke="#000" stroke-width="1.1"/>
<line x1="531.7" y1="150.5" x2="682" y2="150.5" stroke="#000" stroke-width="1.1"/>
<line x1="529.6" y1="146.5" x2="532.2" y2="146.5" stroke="#000" stroke-width="1"/>
<text x="526.8" y="150.13" font-size="10.1" text-anchor="end" fill="#000" stroke="#000" stroke-width="0.18" stroke-opacity="0.6">0.0</text>
<line x1="529.6" y1="126.5" x2="532.2" y2="126.5" stroke="#000" stroke-width="1"/>
<text x="526.8" y="130.13" font-size="10.1" text-anchor="end" fill="#000" stroke="#000" stroke-width="0.18" stroke-opacity="0.6">0.2</text>
<line x1="529.6" y1="106.5" x2="532.2" y2="106.5" stroke="#000" stroke-width="1"/>
<text x="526.8" y="110.13" font-size="10.1" text-anchor="end" fill="#000" stroke="#000" stroke-width="0.18" stroke-opacity="0.6">0.4</text>
<line x1="529.6" y1="86.5" x2="532.2" y2="86.5" stroke="#000" stroke-width="1"/>
<text x="526.8" y="90.13" font-size="10.1" text-anchor="end" fill="#000" stroke="#000" stroke-width="0.18" stroke-opacity="0.6">0.6</text>
<line x1="529.6" y1="66.5" x2="532.2" y2="66.5" stroke="#000" stroke-width="1"/>
<text x="526.8" y="70.13" font-size="10.1" text-anchor="end" fill="#000" stroke="#000" stroke-width="0.18" stroke-opacity="0.6">0.8</text>
<line x1="562.5" y1="150.5" x2="562.5" y2="153.1" stroke="#000" stroke-width="1"/>
<text x="562" y="162.9" font-size="9.7" text-anchor="middle" fill="#000" stroke="#000" stroke-width="0.18" stroke-opacity="0.6">1e+03</text>
<line x1="596.5" y1="150.5" x2="596.5" y2="153.1" stroke="#000" stroke-width="1"/>
<text x="596" y="162.9" font-size="9.7" text-anchor="middle" fill="#000" stroke="#000" stroke-width="0.18" stroke-opacity="0.6">1e+04</text>
<line x1="630.5" y1="150.5" x2="630.5" y2="153.1" stroke="#000" stroke-width="1"/>
<text x="630" y="162.9" font-size="9.7" text-anchor="middle" fill="#000" stroke="#000" stroke-width="0.18" stroke-opacity="0.6">1e+05</text>
<line x1="664.5" y1="150.5" x2="664.5" y2="153.1" stroke="#000" stroke-width="1"/>
<text x="664" y="162.9" font-size="9.7" text-anchor="middle" fill="#000" stroke="#000" stroke-width="0.18" stroke-opacity="0.6">1e+06</text>
<text x="505.7" y="104" font-size="11.6" font-weight="bold" text-anchor="middle" fill="#000" stroke="#000" stroke-width="0.18" stroke-opacity="0.6" transform="rotate(-90 505.7 104)">Density</text>
<text x="607" y="180.8" font-size="11.6" font-weight="bold" text-anchor="middle" fill="#000" stroke="#000" stroke-width="0.18" stroke-opacity="0.6">Log2(MS1 intensity)</text>
<text x="3.5" y="224.2" font-size="20" font-weight="bold" fill="#000">C</text>
<text x="209.4" y="227.6" font-size="11.4" font-style="italic" fill="#000" stroke="#000" stroke-width="0.18" stroke-opacity="0.6">Batch</text>
<rect x="254.8" y="214.6" width="17" height="17" fill="#D9D9D9"/>
<line x1="256.3" y1="223.1" x2="270.3" y2="223.1" stroke="#F8766D" stroke-width="1.8"/>
<circle cx="263.3" cy="223.1" r="2" fill="#F8766D"/>
<text x="278.4" y="226.3" font-size="10.2" fill="#000" stroke="#000" stroke-width="0.18" stroke-opacity="0.6">1</text>
<rect x="289" y="214.6" width="17" height="17" fill="#D9D9D9"/>
<line x1="290.5" y1="223.1" x2="304.5" y2="223.1" stroke="#00BA38" stroke-width="1.8"/>
<circle cx="297.5" cy="223.1" r="2" fill="#00BA38"/>
<text x="312" y="226.3" font-size="10.2" fill="#000" stroke="#000" stroke-width="0.18" stroke-opacity="0.6">2</text>
<rect x="323.3" y="214.6" width="17" height="17" fill="#D9D9D9"/>
<line x1="324.8" y1="223.1" x2="338.8" y2="223.1" stroke="#619CFF" stroke-width="1.8"/>
<circle cx="331.8" cy="223.1" r="2" fill="#619CFF"/>
<text x="345.9" y="226.3" font-size="10.2" fill="#000" stroke="#000" stroke-width="0.18" stroke-opacity="0.6">3</text>
<rect x="67.3" y="243" width="72.7" height="18.8" fill="#EFEFEF"/>
<text x="103.8" y="256.7" font-size="9.9" font-weight="bold" text-anchor="middle" fill="#000" stroke="#000" stroke-width="0.18" stroke-opacity="0.6">H2AK15Ac</text>
<line x1="70.9" y1="262" x2="70.9" y2="373.6" stroke="#EBEBEB" stroke-width="0.7"/>
<line x1="79.15" y1="262" x2="79.15" y2="373.6" stroke="#EBEBEB" stroke-width="0.7"/>
<line x1="87.4" y1="262" x2="87.4" y2="373.6" stroke="#EBEBEB" stroke-width="0.7"/>
<line x1="103.9" y1="262" x2="103.9" y2="373.6" stroke="#EBEBEB" stroke-width="0.7"/>
<line x1="136.9" y1="262" x2="136.9" y2="373.6" stroke="#EBEBEB" stroke-width="0.7"/>
<line x1="67.6" y1="364.6" x2="140" y2="364.6" stroke="#EBEBEB" stroke-width="0.7"/>
<line x1="65" y1="364.5" x2="67.6" y2="364.5" stroke="#000" stroke-width="1"/>
<text x="61.8" y="368.1" font-size="10" text-anchor="end" fill="#000" stroke="#000" stroke-width="0.18" stroke-opacity="0.6">0.0e+00</text>
<line x1="67.6" y1="342.3" x2="140" y2="342.3" stroke="#EBEBEB" stroke-width="0.7"/>
<line x1="65" y1="342.5" x2="67.6" y2="342.5" stroke="#000" stroke-width="1"/>
<text x="61.8" y="345.8" font-size="10" text-anchor="end" fill="#000" stroke="#000" stroke-width="0.18" stroke-opacity="0.6">5.0e+05</text>
<line x1="67.6" y1="320" x2="140" y2="320" stroke="#EBEBEB" stroke-width="0.7"/>
<line x1="65" y1="320.5" x2="67.6" y2="320.5" stroke="#000" stroke-width="1"/>
<text x="61.8" y="323.5" font-size="10" text-anchor="end" fill="#000" stroke="#000" stroke-width="0.18" stroke-opacity="0.6">1.0e+06</text>
<line x1="67.6" y1="297.7" x2="140" y2="297.7" stroke="#EBEBEB" stroke-width="0.7"/>
<line x1="65" y1="297.5" x2="67.6" y2="297.5" stroke="#000" stroke-width="1"/>
<text x="61.8" y="301.2" font-size="10" text-anchor="end" fill="#000" stroke="#000" stroke-width="0.18" stroke-opacity="0.6">1.5e+06</text>
<line x1="67.6" y1="275.4" x2="140" y2="275.4" stroke="#EBEBEB" stroke-width="0.7"/>
<line x1="65" y1="275.5" x2="67.6" y2="275.5" stroke="#000" stroke-width="1"/>
<text x="61.8" y="278.9" font-size="10" text-anchor="end" fill="#000" stroke="#000" stroke-width="0.18" stroke-opacity="0.6">2.0e+06</text>
<path d="M70.9 361.2 L103.9 332.02 L136.9 299.1 L136.9 305.9 L103.9 335.08 L70.9 368 Z" fill="#999999" fill-opacity="0.4"/>
<path d="M70.9 361.2 L103.9 334.04 L136.9 302.7 L136.9 310.3 L103.9 337.46 L70.9 368.8 Z" fill="#999999" fill-opacity="0.4"/>
<path d="M70.9 360.8 L103.9 318.59 L136.9 272.2 L136.9 279.8 L103.9 322.01 L70.9 368.4 Z" fill="#999999" fill-opacity="0.4"/>
<line x1="70.9" y1="364.6" x2="136.9" y2="302.5" stroke="#F8766D" stroke-width="2.2"/>
<line x1="70.9" y1="365" x2="136.9" y2="306.5" stroke="#619CFF" stroke-width="2.2"/>
<line x1="70.9" y1="364.6" x2="136.9" y2="276" stroke="#00BA38" stroke-width="2.2"/>
<circle cx="70.9" cy="364.6" r="2" fill="#F8766D"/>
<circle cx="70.9" cy="364.4" r="2" fill="#00BA38"/>
<circle cx="70.9" cy="364.8" r="2" fill="#619CFF"/>
<circle cx="79.15" cy="350" r="2" fill="#F8766D"/>
<circle cx="79.15" cy="357" r="2" fill="#F8766D"/>
<circle cx="79.15" cy="352" r="2" fill="#00BA38"/>
<circle cx="79.15" cy="355" r="2" fill="#619CFF"/>
<circle cx="79.15" cy="353" r="2" fill="#619CFF"/>
<circle cx="87.4" cy="344" r="2" fill="#F8766D"/>
<circle cx="87.4" cy="337" r="2" fill="#00BA38"/>
<circle cx="87.4" cy="339" r="2" fill="#00BA38"/>
<circle cx="87.4" cy="348" r="2" fill="#619CFF"/>
<circle cx="87.4" cy="346" r="2" fill="#619CFF"/>
<circle cx="103.9" cy="327" r="2" fill="#F8766D"/>
<circle cx="103.9" cy="316" r="2" fill="#00BA38"/>
<circle cx="103.9" cy="318" r="2" fill="#00BA38"/>
<circle cx="103.9" cy="329" r="2" fill="#00BA38"/>
<circle cx="103.9" cy="335" r="2" fill="#619CFF"/>
<circle cx="103.9" cy="337" r="2" fill="#619CFF"/>
<circle cx="136.9" cy="302" r="2" fill="#F8766D"/>
<circle cx="136.9" cy="304" r="2" fill="#F8766D"/>
<circle cx="136.9" cy="267.4" r="2" fill="#00BA38"/>
<circle cx="136.9" cy="276.4" r="2" fill="#00BA38"/>
<circle cx="136.9" cy="281.4" r="2" fill="#00BA38"/>
<circle cx="136.9" cy="298" r="2" fill="#619CFF"/>
<circle cx="136.9" cy="305" r="2" fill="#619CFF"/>
<circle cx="136.9" cy="308" r="2" fill="#619CFF"/>
<text x="71.2" y="273.7" font-size="5.8" fill="#F8766D" stroke="#F8766D" stroke-width="0.18" stroke-opacity="0.6"><tspan font-style="italic">R</tspan> = 0.98, <tspan font-style="italic">p</tspan> &lt; 2.2e−16</text>
<text x="71.2" y="281.55" font-size="5.8" fill="#00BA38" stroke="#00BA38" stroke-width="0.18" stroke-opacity="0.6"><tspan font-style="italic">R</tspan> = 0.99, <tspan font-style="italic">p</tspan> = 1.2e−11</text>
<text x="71.2" y="289.4" font-size="5.8" fill="#619CFF" stroke="#619CFF" stroke-width="0.18" stroke-opacity="0.6"><tspan font-style="italic">R</tspan> = 0.99, <tspan font-style="italic">p</tspan> = 4.3e−11</text>
<line x1="67.6" y1="262" x2="67.6" y2="374.1" stroke="#000" stroke-width="1.1"/>
<line x1="67.1" y1="373.6" x2="140" y2="373.6" stroke="#000" stroke-width="1.1"/>
<line x1="70.5" y1="373.6" x2="70.5" y2="376.2" stroke="#000" stroke-width="1"/>
<text x="70.9" y="386.6" font-size="9.4" text-anchor="middle" fill="#000" stroke="#000" stroke-width="0.18" stroke-opacity="0.6">0</text>
<line x1="79.5" y1="373.6" x2="79.5" y2="376.2" stroke="#000" stroke-width="1"/>
<text x="79.15" y="386.6" font-size="9.4" text-anchor="middle" fill="#000" stroke="#000" stroke-width="0.18" stroke-opacity="0.6">1</text>
<line x1="87.5" y1="373.6" x2="87.5" y2="376.2" stroke="#000" stroke-width="1"/>
<text x="87.4" y="386.6" font-size="9.4" text-anchor="middle" fill="#000" stroke="#000" stroke-width="0.18" stroke-opacity="0.6">2</text>
<line x1="103.5" y1="373.6" x2="103.5" y2="376.2" stroke="#000" stroke-width="1"/>
<text x="103.9" y="386.6" font-size="9.4" text-anchor="middle" fill="#000" stroke="#000" stroke-width="0.18" stroke-opacity="0.6">4</text>
<line x1="136.5" y1="373.6" x2="136.5" y2="376.2" stroke="#000" stroke-width="1"/>
<text x="136.9" y="386.6" font-size="9.4" text-anchor="middle" fill="#000" stroke="#000" stroke-width="0.18" stroke-opacity="0.6">8</text>
<rect x="180.1" y="243" width="71.9" height="18.8" fill="#EFEFEF"/>
<text x="216.2" y="256.7" font-size="9.9" font-weight="bold" text-anchor="middle" fill="#000" stroke="#000" stroke-width="0.18" stroke-opacity="0.6">H3K23Ac</text>
<line x1="182.6" y1="262" x2="182.6" y2="373.6" stroke="#EBEBEB" stroke-width="0.7"/>
<line x1="190.82" y1="262" x2="190.82" y2="373.6" stroke="#EBEBEB" stroke-width="0.7"/>
<line x1="199.05" y1="262" x2="199.05" y2="373.6" stroke="#EBEBEB" stroke-width="0.7"/>
<line x1="215.5" y1="262" x2="215.5" y2="373.6" stroke="#EBEBEB" stroke-width="0.7"/>
<line x1="248.4" y1="262" x2="248.4" y2="373.6" stroke="#EBEBEB" stroke-width="0.7"/>
<line x1="180.4" y1="362.4" x2="252" y2="362.4" stroke="#EBEBEB" stroke-width="0.7"/>
<line x1="177.8" y1="362.5" x2="180.4" y2="362.5" stroke="#000" stroke-width="1"/>
<text x="174.6" y="365.9" font-size="10" text-anchor="end" fill="#000" stroke="#000" stroke-width="0.18" stroke-opacity="0.6">0e+00</text>
<line x1="180.4" y1="334.4" x2="252" y2="334.4" stroke="#EBEBEB" stroke-width="0.7"/>
<line x1="177.8" y1="334.5" x2="180.4" y2="334.5" stroke="#000" stroke-width="1"/>
<text x="174.6" y="337.9" font-size="10" text-anchor="end" fill="#000" stroke="#000" stroke-width="0.18" stroke-opacity="0.6">1e+06</text>
<line x1="180.4" y1="306.4" x2="252" y2="306.4" stroke="#EBEBEB" stroke-width="0.7"/>
<line x1="177.8" y1="306.5" x2="180.4" y2="306.5" stroke="#000" stroke-width="1"/>
<text x="174.6" y="309.9" font-size="10" text-anchor="end" fill="#000" stroke="#000" stroke-width="0.18" stroke-opacity="0.6">2e+06</text>
<line x1="180.4" y1="278.4" x2="252" y2="278.4" stroke="#EBEBEB" stroke-width="0.7"/>
<line x1="177.8" y1="278.5" x2="180.4" y2="278.5" stroke="#000" stroke-width="1"/>
<text x="174.6" y="281.9" font-size="10" text-anchor="end" fill="#000" stroke="#000" stroke-width="0.18" stroke-opacity="0.6">3e+06</text>
<path d="M182.6 358.9 L215.5 339.63 L248.4 316.4 L248.4 323.6 L215.5 342.87 L182.6 366.1 Z" fill="#999999" fill-opacity="0.4"/>
<path d="M182.6 359 L215.5 333.95 L248.4 303.4 L248.4 313.4 L215.5 338.45 L182.6 369 Z" fill="#999999" fill-opacity="0.4"/>
<path d="M182.6 358 L215.5 320.1 L248.4 275.6 L248.4 287.6 L215.5 325.5 L182.6 370 Z" fill="#999999" fill-opacity="0.4"/>
<line x1="182.6" y1="362.5" x2="248.4" y2="320" stroke="#F8766D" stroke-width="2.2"/>
<line x1="182.6" y1="364" x2="248.4" y2="308.4" stroke="#619CFF" stroke-width="2.2"/>
<line x1="182.6" y1="364" x2="248.4" y2="281.6" stroke="#00BA38" stroke-width="2.2"/>
<circle cx="182.6" cy="362.2" r="2" fill="#F8766D"/>
<circle cx="182.6" cy="362.6" r="2" fill="#00BA38"/>
<circle cx="182.6" cy="362.4" r="2" fill="#619CFF"/>
<circle cx="190.82" cy="349" r="2" fill="#F8766D"/>
<circle cx="190.82" cy="359" r="2" fill="#F8766D"/>
<circle cx="190.82" cy="352" r="2" fill="#00BA38"/>
<circle cx="190.82" cy="355.6" r="2" fill="#619CFF"/>
<circle cx="199.05" cy="355" r="2" fill="#F8766D"/>
<circle cx="199.05" cy="340" r="2" fill="#00BA38"/>
<circle cx="199.05" cy="348" r="2" fill="#619CFF"/>
<circle cx="199.05" cy="350" r="2" fill="#619CFF"/>
<circle cx="215.5" cy="339.6" r="2" fill="#F8766D"/>
<circle cx="215.5" cy="345" r="2" fill="#F8766D"/>
<circle cx="215.5" cy="319" r="2" fill="#00BA38"/>
<circle cx="215.5" cy="324" r="2" fill="#00BA38"/>
<circle cx="215.5" cy="332" r="2" fill="#00BA38"/>
<circle cx="215.5" cy="337" r="2" fill="#619CFF"/>
<circle cx="248.4" cy="320" r="2" fill="#F8766D"/>
<circle cx="248.4" cy="323" r="2" fill="#F8766D"/>
<circle cx="248.4" cy="267.4" r="2" fill="#00BA38"/>
<circle cx="248.4" cy="282.4" r="2" fill="#00BA38"/>
<circle cx="248.4" cy="288" r="2" fill="#00BA38"/>
<circle cx="248.4" cy="300" r="2" fill="#619CFF"/>
<circle cx="248.4" cy="304.4" r="2" fill="#619CFF"/>
<circle cx="248.4" cy="316.4" r="2" fill="#619CFF"/>
<text x="183" y="273.7" font-size="5.8" fill="#F8766D" stroke="#F8766D" stroke-width="0.18" stroke-opacity="0.6"><tspan font-style="italic">R</tspan> = 0.98, <tspan font-style="italic">p</tspan> &lt; 2.2e−16</text>
<text x="183" y="281.55" font-size="5.8" fill="#00BA38" stroke="#00BA38" stroke-width="0.18" stroke-opacity="0.6"><tspan font-style="italic">R</tspan> = 0.98, <tspan font-style="italic">p</tspan> = 2e−10</text>
<text x="183" y="289.4" font-size="5.8" fill="#619CFF" stroke="#619CFF" stroke-width="0.18" stroke-opacity="0.6"><tspan font-style="italic">R</tspan> = 0.98, <tspan font-style="italic">p</tspan> = 9.5e−10</text>
<line x1="180.4" y1="262" x2="180.4" y2="374.1" stroke="#000" stroke-width="1.1"/>
<line x1="179.9" y1="373.6" x2="252" y2="373.6" stroke="#000" stroke-width="1.1"/>
<line x1="182.5" y1="373.6" x2="182.5" y2="376.2" stroke="#000" stroke-width="1"/>
<text x="182.6" y="386.6" font-size="9.4" text-anchor="middle" fill="#000" stroke="#000" stroke-width="0.18" stroke-opacity="0.6">0</text>
<line x1="190.5" y1="373.6" x2="190.5" y2="376.2" stroke="#000" stroke-width="1"/>
<text x="190.82" y="386.6" font-size="9.4" text-anchor="middle" fill="#000" stroke="#000" stroke-width="0.18" stroke-opacity="0.6">1</text>
<line x1="199.5" y1="373.6" x2="199.5" y2="376.2" stroke="#000" stroke-width="1"/>
<text x="199.05" y="386.6" font-size="9.4" text-anchor="middle" fill="#000" stroke="#000" stroke-width="0.18" stroke-opacity="0.6">2</text>
<line x1="215.5" y1="373.6" x2="215.5" y2="376.2" stroke="#000" stroke-width="1"/>
<text x="215.5" y="386.6" font-size="9.4" text-anchor="middle" fill="#000" stroke="#000" stroke-width="0.18" stroke-opacity="0.6">4</text>
<line x1="248.5" y1="373.6" x2="248.5" y2="376.2" stroke="#000" stroke-width="1"/>
<text x="248.4" y="386.6" font-size="9.4" text-anchor="middle" fill="#000" stroke="#000" stroke-width="0.18" stroke-opacity="0.6">8</text>
<rect x="291.2" y="243" width="72.4" height="18.8" fill="#EFEFEF"/>
<text x="327.55" y="256.7" font-size="9.9" font-weight="bold" text-anchor="middle" fill="#000" stroke="#000" stroke-width="0.18" stroke-opacity="0.6">H3K9Me2</text>
<line x1="293.6" y1="262" x2="293.6" y2="373.6" stroke="#EBEBEB" stroke-width="0.7"/>
<line x1="301.95" y1="262" x2="301.95" y2="373.6" stroke="#EBEBEB" stroke-width="0.7"/>
<line x1="310.3" y1="262" x2="310.3" y2="373.6" stroke="#EBEBEB" stroke-width="0.7"/>
<line x1="327" y1="262" x2="327" y2="373.6" stroke="#EBEBEB" stroke-width="0.7"/>
<line x1="360.4" y1="262" x2="360.4" y2="373.6" stroke="#EBEBEB" stroke-width="0.7"/>
<line x1="291.5" y1="366.8" x2="363.6" y2="366.8" stroke="#EBEBEB" stroke-width="0.7"/>
<line x1="288.9" y1="366.5" x2="291.5" y2="366.5" stroke="#000" stroke-width="1"/>
<text x="285.7" y="370.3" font-size="10" text-anchor="end" fill="#000" stroke="#000" stroke-width="0.18" stroke-opacity="0.6">0e+00</text>
<line x1="291.5" y1="327.5" x2="363.6" y2="327.5" stroke="#EBEBEB" stroke-width="0.7"/>
<line x1="288.9" y1="327.5" x2="291.5" y2="327.5" stroke="#000" stroke-width="1"/>
<text x="285.7" y="331" font-size="10" text-anchor="end" fill="#000" stroke="#000" stroke-width="0.18" stroke-opacity="0.6">1e+06</text>
<line x1="291.5" y1="288.2" x2="363.6" y2="288.2" stroke="#EBEBEB" stroke-width="0.7"/>
<line x1="288.9" y1="288.5" x2="291.5" y2="288.5" stroke="#000" stroke-width="1"/>
<text x="285.7" y="291.7" font-size="10" text-anchor="end" fill="#000" stroke="#000" stroke-width="0.18" stroke-opacity="0.6">2e+06</text>
<path d="M293.6 362.4 L327 324.88 L360.4 283.4 L360.4 290.6 L327 328.12 L293.6 369.6 Z" fill="#999999" fill-opacity="0.4"/>
<path d="M293.6 362.5 L327 330.45 L360.4 294 L360.4 302 L327 334.05 L293.6 370.5 Z" fill="#999999" fill-opacity="0.4"/>
<path d="M293.6 363.3 L327 318.86 L360.4 269.8 L360.4 278.2 L327 322.64 L293.6 371.7 Z" fill="#999999" fill-opacity="0.4"/>
<line x1="293.6" y1="366" x2="360.4" y2="287" stroke="#F8766D" stroke-width="2.2"/>
<line x1="293.6" y1="366.5" x2="360.4" y2="298" stroke="#619CFF" stroke-width="2.2"/>
<line x1="293.6" y1="367.5" x2="360.4" y2="274" stroke="#00BA38" stroke-width="2.2"/>
<circle cx="293.6" cy="366.4" r="2" fill="#F8766D"/>
<circle cx="293.6" cy="366.8" r="2" fill="#00BA38"/>
<circle cx="293.6" cy="366.6" r="2" fill="#619CFF"/>
<circle cx="301.95" cy="349" r="2" fill="#F8766D"/>
<circle cx="301.95" cy="358" r="2" fill="#F8766D"/>
<circle cx="301.95" cy="351.6" r="2" fill="#00BA38"/>
<circle cx="301.95" cy="357" r="2" fill="#619CFF"/>
<circle cx="310.3" cy="344" r="2" fill="#F8766D"/>
<circle cx="310.3" cy="335.6" r="2" fill="#00BA38"/>
<circle cx="310.3" cy="348" r="2" fill="#00BA38"/>
<circle cx="310.3" cy="341" r="2" fill="#619CFF"/>
<circle cx="327" cy="323" r="2" fill="#F8766D"/>
<circle cx="327" cy="328" r="2" fill="#F8766D"/>
<circle cx="327" cy="311" r="2" fill="#00BA38"/>
<circle cx="327" cy="316" r="2" fill="#00BA38"/>
<circle cx="327" cy="332" r="2" fill="#619CFF"/>
<circle cx="327" cy="336" r="2" fill="#619CFF"/>
<circle cx="360.4" cy="283.6" r="2" fill="#F8766D"/>
<circle cx="360.4" cy="289" r="2" fill="#F8766D"/>
<circle cx="360.4" cy="294.4" r="2" fill="#F8766D"/>
<circle cx="360.4" cy="267.4" r="2" fill="#00BA38"/>
<circle cx="360.4" cy="274.4" r="2" fill="#00BA38"/>
<circle cx="360.4" cy="277" r="2" fill="#00BA38"/>
<circle cx="360.4" cy="293.6" r="2" fill="#619CFF"/>
<circle cx="360.4" cy="299" r="2" fill="#619CFF"/>
<circle cx="360.4" cy="304.4" r="2" fill="#619CFF"/>
<text x="295" y="273.7" font-size="5.8" fill="#F8766D" stroke="#F8766D" stroke-width="0.18" stroke-opacity="0.6"><tspan font-style="italic">R</tspan> = 0.98, <tspan font-style="italic">p</tspan> &lt; 2.2e−16</text>
<text x="295" y="281.55" font-size="5.8" fill="#00BA38" stroke="#00BA38" stroke-width="0.18" stroke-opacity="0.6"><tspan font-style="italic">R</tspan> = 0.99, <tspan font-style="italic">p</tspan> = 6.6e−12</text>
<text x="295" y="289.4" font-size="5.8" fill="#619CFF" stroke="#619CFF" stroke-width="0.18" stroke-opacity="0.6"><tspan font-style="italic">R</tspan> = 0.99, <tspan font-style="italic">p</tspan> = 2.5e−11</text>
<line x1="291.5" y1="262" x2="291.5" y2="374.1" stroke="#000" stroke-width="1.1"/>
<line x1="291" y1="373.6" x2="363.6" y2="373.6" stroke="#000" stroke-width="1.1"/>
<line x1="293.5" y1="373.6" x2="293.5" y2="376.2" stroke="#000" stroke-width="1"/>
<text x="293.6" y="386.6" font-size="9.4" text-anchor="middle" fill="#000" stroke="#000" stroke-width="0.18" stroke-opacity="0.6">0</text>
<line x1="301.5" y1="373.6" x2="301.5" y2="376.2" stroke="#000" stroke-width="1"/>
<text x="301.95" y="386.6" font-size="9.4" text-anchor="middle" fill="#000" stroke="#000" stroke-width="0.18" stroke-opacity="0.6">1</text>
<line x1="310.5" y1="373.6" x2="310.5" y2="376.2" stroke="#000" stroke-width="1"/>
<text x="310.3" y="386.6" font-size="9.4" text-anchor="middle" fill="#000" stroke="#000" stroke-width="0.18" stroke-opacity="0.6">2</text>
<line x1="327.5" y1="373.6" x2="327.5" y2="376.2" stroke="#000" stroke-width="1"/>
<text x="327" y="386.6" font-size="9.4" text-anchor="middle" fill="#000" stroke="#000" stroke-width="0.18" stroke-opacity="0.6">4</text>
<line x1="360.5" y1="373.6" x2="360.5" y2="376.2" stroke="#000" stroke-width="1"/>
<text x="360.4" y="386.6" font-size="9.4" text-anchor="middle" fill="#000" stroke="#000" stroke-width="0.18" stroke-opacity="0.6">8</text>
<rect x="410.7" y="243" width="72.9" height="18.8" fill="#EFEFEF"/>
<text x="447.3" y="256.7" font-size="9.9" font-weight="bold" text-anchor="middle" fill="#000" stroke="#000" stroke-width="0.18" stroke-opacity="0.6">H4K5AcK12Ac</text>
<line x1="413" y1="262" x2="413" y2="373.6" stroke="#EBEBEB" stroke-width="0.7"/>
<line x1="421.38" y1="262" x2="421.38" y2="373.6" stroke="#EBEBEB" stroke-width="0.7"/>
<line x1="429.75" y1="262" x2="429.75" y2="373.6" stroke="#EBEBEB" stroke-width="0.7"/>
<line x1="446.5" y1="262" x2="446.5" y2="373.6" stroke="#EBEBEB" stroke-width="0.7"/>
<line x1="480" y1="262" x2="480" y2="373.6" stroke="#EBEBEB" stroke-width="0.7"/>
<line x1="411" y1="361" x2="483.6" y2="361" stroke="#EBEBEB" stroke-width="0.7"/>
<line x1="408.4" y1="361.5" x2="411" y2="361.5" stroke="#000" stroke-width="1"/>
<text x="405.2" y="364.5" font-size="10" text-anchor="end" fill="#000" stroke="#000" stroke-width="0.18" stroke-opacity="0.6">0.0e+00</text>
<line x1="411" y1="329.6" x2="483.6" y2="329.6" stroke="#EBEBEB" stroke-width="0.7"/>
<line x1="408.4" y1="329.5" x2="411" y2="329.5" stroke="#000" stroke-width="1"/>
<text x="405.2" y="333.1" font-size="10" text-anchor="end" fill="#000" stroke="#000" stroke-width="0.18" stroke-opacity="0.6">5.0e+04</text>
<line x1="411" y1="298.2" x2="483.6" y2="298.2" stroke="#EBEBEB" stroke-width="0.7"/>
<line x1="408.4" y1="298.5" x2="411" y2="298.5" stroke="#000" stroke-width="1"/>
<text x="405.2" y="301.7" font-size="10" text-anchor="end" fill="#000" stroke="#000" stroke-width="0.18" stroke-opacity="0.6">1.0e+05</text>
<line x1="411" y1="266.8" x2="483.6" y2="266.8" stroke="#EBEBEB" stroke-width="0.7"/>
<line x1="408.4" y1="266.5" x2="411" y2="266.5" stroke="#000" stroke-width="1"/>
<text x="405.2" y="270.3" font-size="10" text-anchor="end" fill="#000" stroke="#000" stroke-width="0.18" stroke-opacity="0.6">1.5e+05</text>
<path d="M413 351.5 L446.5 332.07 L480 305.5 L480 318.5 L446.5 337.93 L413 364.5 Z" fill="#999999" fill-opacity="0.4"/>
<path d="M413 351.5 L446.5 331.57 L480 304.5 L480 317.5 L446.5 337.43 L413 364.5 Z" fill="#999999" fill-opacity="0.4"/>
<path d="M413 353.5 L446.5 316.68 L480 270.5 L480 287.5 L446.5 324.32 L413 370.5 Z" fill="#999999" fill-opacity="0.4"/>
<line x1="413" y1="358" x2="480" y2="312" stroke="#F8766D" stroke-width="2.2"/>
<line x1="413" y1="358" x2="480" y2="311" stroke="#619CFF" stroke-width="2.2"/>
<line x1="413" y1="362" x2="480" y2="279" stroke="#00BA38" stroke-width="2.2"/>
<circle cx="413" cy="361" r="2" fill="#F8766D"/>
<circle cx="413" cy="362" r="2" fill="#00BA38"/>
<circle cx="413" cy="360" r="2" fill="#619CFF"/>
<circle cx="421.38" cy="337.6" r="2" fill="#F8766D"/>
<circle cx="421.38" cy="341" r="2" fill="#F8766D"/>
<circle cx="421.38" cy="358" r="2" fill="#F8766D"/>
<circle cx="421.38" cy="352" r="2" fill="#00BA38"/>
<circle cx="421.38" cy="347" r="2" fill="#619CFF"/>
<circle cx="421.38" cy="358" r="2" fill="#619CFF"/>
<circle cx="429.75" cy="350" r="2" fill="#F8766D"/>
<circle cx="429.75" cy="347" r="2" fill="#00BA38"/>
<circle cx="429.75" cy="337" r="2" fill="#619CFF"/>
<circle cx="429.75" cy="345" r="2" fill="#619CFF"/>
<circle cx="446.5" cy="325" r="2" fill="#F8766D"/>
<circle cx="446.5" cy="339" r="2" fill="#F8766D"/>
<circle cx="446.5" cy="311.6" r="2" fill="#00BA38"/>
<circle cx="446.5" cy="318" r="2" fill="#00BA38"/>
<circle cx="446.5" cy="328" r="2" fill="#00BA38"/>
<circle cx="446.5" cy="333" r="2" fill="#619CFF"/>
<circle cx="446.5" cy="345.6" r="2" fill="#619CFF"/>
<circle cx="480" cy="302" r="2" fill="#F8766D"/>
<circle cx="480" cy="328" r="2" fill="#F8766D"/>
<circle cx="480" cy="267" r="2" fill="#00BA38"/>
<circle cx="480" cy="271" r="2" fill="#00BA38"/>
<circle cx="480" cy="295" r="2" fill="#00BA38"/>
<circle cx="480" cy="297.6" r="2" fill="#619CFF"/>
<circle cx="480" cy="314" r="2" fill="#619CFF"/>
<circle cx="480" cy="315" r="2" fill="#619CFF"/>
<text x="414.6" y="273.7" font-size="5.8" fill="#F8766D" stroke="#F8766D" stroke-width="0.18" stroke-opacity="0.6"><tspan font-style="italic">R</tspan> = 0.92, <tspan font-style="italic">p</tspan> = 4.8e−13</text>
<text x="414.6" y="281.55" font-size="5.8" fill="#00BA38" stroke="#00BA38" stroke-width="0.18" stroke-opacity="0.6"><tspan font-style="italic">R</tspan> = 0.97, <tspan font-style="italic">p</tspan> = 6.7e−09</text>
<text x="414.6" y="289.4" font-size="5.8" fill="#619CFF" stroke="#619CFF" stroke-width="0.18" stroke-opacity="0.6"><tspan font-style="italic">R</tspan> = 0.94, <tspan font-style="italic">p</tspan> = 4.2e−07</text>
<line x1="411" y1="262" x2="411" y2="374.1" stroke="#000" stroke-width="1.1"/>
<line x1="410.5" y1="373.6" x2="483.6" y2="373.6" stroke="#000" stroke-width="1.1"/>
<line x1="413.5" y1="373.6" x2="413.5" y2="376.2" stroke="#000" stroke-width="1"/>
<text x="413" y="386.6" font-size="9.4" text-anchor="middle" fill="#000" stroke="#000" stroke-width="0.18" stroke-opacity="0.6">0</text>
<line x1="421.5" y1="373.6" x2="421.5" y2="376.2" stroke="#000" stroke-width="1"/>
<text x="421.38" y="386.6" font-size="9.4" text-anchor="middle" fill="#000" stroke="#000" stroke-width="0.18" stroke-opacity="0.6">1</text>
<line x1="429.5" y1="373.6" x2="429.5" y2="376.2" stroke="#000" stroke-width="1"/>
<text x="429.75" y="386.6" font-size="9.4" text-anchor="middle" fill="#000" stroke="#000" stroke-width="0.18" stroke-opacity="0.6">2</text>
<line x1="446.5" y1="373.6" x2="446.5" y2="376.2" stroke="#000" stroke-width="1"/>
<text x="446.5" y="386.6" font-size="9.4" text-anchor="middle" fill="#000" stroke="#000" stroke-width="0.18" stroke-opacity="0.6">4</text>
<line x1="480.5" y1="373.6" x2="480.5" y2="376.2" stroke="#000" stroke-width="1"/>
<text x="480" y="386.6" font-size="9.4" text-anchor="middle" fill="#000" stroke="#000" stroke-width="0.18" stroke-opacity="0.6">8</text>
<text x="19.2" y="319" font-size="11.5" font-weight="bold" text-anchor="middle" fill="#000" stroke="#000" stroke-width="0.18" stroke-opacity="0.6" transform="rotate(-90 19.2 319)">MS1 Intensity</text>
<text x="259.5" y="403.4" font-size="12.1" font-weight="bold" fill="#000" stroke="#000" stroke-width="0.18" stroke-opacity="0.6">Cell #</text>
<text x="498.8" y="225.4" font-size="20" font-weight="bold" fill="#000">D</text>
<text x="546" y="240.8" font-size="10.8" font-style="italic" fill="#000" stroke="#000" stroke-width="0.18" stroke-opacity="0.6">p−value</text>
<defs><linearGradient id="pg" x1="0" y1="0" x2="1" y2="0"><stop offset="0" stop-color="#000"/><stop offset="1" stop-color="#fff"/></linearGradient></defs>
<rect x="589" y="222.6" width="64" height="13.2" fill="url(#pg)"/>
<line x1="601.6" y1="222.6" x2="601.6" y2="224.4" stroke="#fff" stroke-width="0.8"/>
<line x1="601.6" y1="234" x2="601.6" y2="235.8" stroke="#fff" stroke-width="0.8"/>
<text x="600" y="241.4" font-size="9.3" fill="#000" stroke="#000" stroke-width="0.18" stroke-opacity="0.6" transform="rotate(45 600 241.4)">0.1</text>
<line x1="614.4" y1="222.6" x2="614.4" y2="224.4" stroke="#fff" stroke-width="0.8"/>
<line x1="614.4" y1="234" x2="614.4" y2="235.8" stroke="#fff" stroke-width="0.8"/>
<text x="612.8" y="241.4" font-size="9.3" fill="#000" stroke="#000" stroke-width="0.18" stroke-opacity="0.6" transform="rotate(45 612.8 241.4)">0.2</text>
<line x1="627" y1="222.6" x2="627" y2="224.4" stroke="#fff" stroke-width="0.8"/>
<line x1="627" y1="234" x2="627" y2="235.8" stroke="#fff" stroke-width="0.8"/>
<text x="625.4" y="241.4" font-size="9.3" fill="#000" stroke="#000" stroke-width="0.18" stroke-opacity="0.6" transform="rotate(45 625.4 241.4)">0.3</text>
<line x1="639.6" y1="222.6" x2="639.6" y2="224.4" stroke="#fff" stroke-width="0.8"/>
<line x1="639.6" y1="234" x2="639.6" y2="235.8" stroke="#fff" stroke-width="0.8"/>
<text x="638" y="241.4" font-size="9.3" fill="#000" stroke="#000" stroke-width="0.18" stroke-opacity="0.6" transform="rotate(45 638 241.4)">0.4</text>
<line x1="652.2" y1="222.6" x2="652.2" y2="224.4" stroke="#fff" stroke-width="0.8"/>
<line x1="652.2" y1="234" x2="652.2" y2="235.8" stroke="#fff" stroke-width="0.8"/>
<text x="650.6" y="241.4" font-size="9.3" fill="#000" stroke="#000" stroke-width="0.18" stroke-opacity="0.6" transform="rotate(45 650.6 241.4)">0.5</text>
<line x1="566.3" y1="254" x2="566.3" y2="380" stroke="#EBEBEB" stroke-width="0.7"/>
<line x1="601.6" y1="254" x2="601.6" y2="380" stroke="#EBEBEB" stroke-width="0.7"/>
<line x1="637" y1="254" x2="637" y2="380" stroke="#EBEBEB" stroke-width="0.7"/>
<line x1="545.5" y1="361.6" x2="657.6" y2="361.6" stroke="#EBEBEB" stroke-width="0.7"/>
<line x1="542.9" y1="361.5" x2="545.5" y2="361.5" stroke="#000" stroke-width="1"/>
<text x="540.4" y="364.79" font-size="9.1" text-anchor="end" fill="#000" stroke="#000" stroke-width="0.18" stroke-opacity="0.6">0.00</text>
<line x1="545.5" y1="336.05" x2="657.6" y2="336.05" stroke="#EBEBEB" stroke-width="0.7"/>
<line x1="542.9" y1="336.5" x2="545.5" y2="336.5" stroke="#000" stroke-width="1"/>
<text x="540.4" y="339.24" font-size="9.1" text-anchor="end" fill="#000" stroke="#000" stroke-width="0.18" stroke-opacity="0.6">0.25</text>
<line x1="545.5" y1="310.5" x2="657.6" y2="310.5" stroke="#EBEBEB" stroke-width="0.7"/>
<line x1="542.9" y1="310.5" x2="545.5" y2="310.5" stroke="#000" stroke-width="1"/>
<text x="540.4" y="313.69" font-size="9.1" text-anchor="end" fill="#000" stroke="#000" stroke-width="0.18" stroke-opacity="0.6">0.50</text>
<line x1="545.5" y1="284.95" x2="657.6" y2="284.95" stroke="#EBEBEB" stroke-width="0.7"/>
<line x1="542.9" y1="284.5" x2="545.5" y2="284.5" stroke="#000" stroke-width="1"/>
<text x="540.4" y="288.14" font-size="9.1" text-anchor="end" fill="#000" stroke="#000" stroke-width="0.18" stroke-opacity="0.6">0.75</text>
<line x1="545.5" y1="259.4" x2="657.6" y2="259.4" stroke="#EBEBEB" stroke-width="0.7"/>
<line x1="542.9" y1="259.5" x2="545.5" y2="259.5" stroke="#000" stroke-width="1"/>
<text x="540.4" y="262.59" font-size="9.1" text-anchor="end" fill="#000" stroke="#000" stroke-width="0.18" stroke-opacity="0.6">1.00</text>
<line x1="545.5" y1="279.84" x2="660" y2="279.84" stroke="#333" stroke-width="1.3" stroke-dasharray="4 3.9"/>
<circle cx="553" cy="260.8" r="2" fill="#1a1a1a" fill-opacity="0.62" stroke="#111" stroke-opacity="0.7" stroke-width="0.7"/>
<circle cx="553.2" cy="263.6" r="2" fill="#1a1a1a" fill-opacity="0.62" stroke="#111" stroke-opacity="0.7" stroke-width="0.7"/>
<circle cx="556" cy="262.4" r="2" fill="#1a1a1a" fill-opacity="0.62" stroke="#111" stroke-opacity="0.7" stroke-width="0.7"/>
<circle cx="557.6" cy="264" r="2" fill="#1a1a1a" fill-opacity="0.62" stroke="#111" stroke-opacity="0.7" stroke-width="0.7"/>
<circle cx="559.6" cy="260" r="2" fill="#1a1a1a" fill-opacity="0.62" stroke="#111" stroke-opacity="0.7" stroke-width="0.7"/>
<circle cx="555.6" cy="268.5" r="2" fill="#1a1a1a" fill-opacity="0.62" stroke="#111" stroke-opacity="0.7" stroke-width="0.7"/>
<circle cx="559.2" cy="268.5" r="2" fill="#1a1a1a" fill-opacity="0.62" stroke="#111" stroke-opacity="0.7" stroke-width="0.7"/>
<circle cx="562.5" cy="275.7" r="2" fill="#1a1a1a" fill-opacity="0.62" stroke="#111" stroke-opacity="0.7" stroke-width="0.7"/>
<circle cx="565.3" cy="278.5" r="2" fill="#1a1a1a" fill-opacity="0.62" stroke="#111" stroke-opacity="0.7" stroke-width="0.7"/>
<circle cx="561" cy="260.4" r="2" fill="#1a1a1a" fill-opacity="0.62" stroke="#111" stroke-opacity="0.7" stroke-width="0.7"/>
<circle cx="562.6" cy="261.2" r="2" fill="#1a1a1a" fill-opacity="0.62" stroke="#111" stroke-opacity="0.7" stroke-width="0.7"/>
<circle cx="564.2" cy="260.2" r="2" fill="#1a1a1a" fill-opacity="0.62" stroke="#111" stroke-opacity="0.7" stroke-width="0.7"/>
<circle cx="565.8" cy="261" r="2" fill="#1a1a1a" fill-opacity="0.62" stroke="#111" stroke-opacity="0.7" stroke-width="0.7"/>
<circle cx="567.4" cy="260.4" r="2" fill="#1a1a1a" fill-opacity="0.62" stroke="#111" stroke-opacity="0.7" stroke-width="0.7"/>
<circle cx="563" cy="262.6" r="2" fill="#1a1a1a" fill-opacity="0.62" stroke="#111" stroke-opacity="0.7" stroke-width="0.7"/>
<circle cx="568.6" cy="262.4" r="2" fill="#1a1a1a" fill-opacity="0.62" stroke="#111" stroke-opacity="0.7" stroke-width="0.7"/>
<circle cx="561.6" cy="262.8" r="2" fill="#1a1a1a" fill-opacity="0.62" stroke="#111" stroke-opacity="0.7" stroke-width="0.7"/>
<circle cx="568.9" cy="260" r="2" fill="#1a1a1a" fill-opacity="0.62" stroke="#111" stroke-opacity="0.7" stroke-width="0.7"/>
<circle cx="570.5" cy="266" r="2" fill="#1a1a1a" fill-opacity="0.62" stroke="#111" stroke-opacity="0.7" stroke-width="0.7"/>
<circle cx="572.1" cy="260.8" r="2" fill="#1a1a1a" fill-opacity="0.62" stroke="#111" stroke-opacity="0.7" stroke-width="0.7"/>
<circle cx="574.5" cy="260" r="2" fill="#1a1a1a" fill-opacity="0.62" stroke="#111" stroke-opacity="0.7" stroke-width="0.7"/>
<circle cx="576.9" cy="260.4" r="2" fill="#1a1a1a" fill-opacity="0.62" stroke="#111" stroke-opacity="0.7" stroke-width="0.7"/>
<circle cx="579.7" cy="260.8" r="2" fill="#1a1a1a" fill-opacity="0.62" stroke="#111" stroke-opacity="0.7" stroke-width="0.7"/>
<circle cx="576.9" cy="263.6" r="2" fill="#1a1a1a" fill-opacity="0.62" stroke="#111" stroke-opacity="0.7" stroke-width="0.7"/>
<circle cx="578.9" cy="266.9" r="2" fill="#1a1a1a" fill-opacity="0.62" stroke="#111" stroke-opacity="0.7" stroke-width="0.7"/>
<circle cx="576.1" cy="269.3" r="2" fill="#1a1a1a" fill-opacity="0.62" stroke="#111" stroke-opacity="0.7" stroke-width="0.7"/>
<circle cx="578.9" cy="271.7" r="2" fill="#1a1a1a" fill-opacity="0.62" stroke="#111" stroke-opacity="0.7" stroke-width="0.7"/>
<circle cx="573.7" cy="271.7" r="2" fill="#1a1a1a" fill-opacity="0.62" stroke="#111" stroke-opacity="0.7" stroke-width="0.7"/>
<circle cx="571" cy="262.6" r="2" fill="#1a1a1a" fill-opacity="0.62" stroke="#111" stroke-opacity="0.7" stroke-width="0.7"/>
<circle cx="575" cy="262.2" r="2" fill="#1a1a1a" fill-opacity="0.62" stroke="#111" stroke-opacity="0.7" stroke-width="0.7"/>
<circle cx="573.2" cy="264.6" r="2" fill="#1a1a1a" fill-opacity="0.62" stroke="#111" stroke-opacity="0.7" stroke-width="0.7"/>
<circle cx="557.4" cy="301" r="2" fill="#1a1a1a" fill-opacity="0.62" stroke="#111" stroke-opacity="0.7" stroke-width="0.7"/>
<circle cx="574.4" cy="295.6" r="2" fill="#1a1a1a" fill-opacity="0.62" stroke="#111" stroke-opacity="0.7" stroke-width="0.7"/>
<circle cx="588" cy="300" r="2" fill="#1a1a1a" fill-opacity="0.62" stroke="#111" stroke-opacity="0.7" stroke-width="0.7"/>
<circle cx="610" cy="303.6" r="2" fill="#1a1a1a" fill-opacity="0.62" stroke="#111" stroke-opacity="0.7" stroke-width="0.7"/>
<circle cx="650" cy="298" r="2" fill="#1a1a1a" fill-opacity="0.62" stroke="#111" stroke-opacity="0.7" stroke-width="0.7"/>
<circle cx="592.2" cy="269.7" r="2" fill="#1a1a1a" fill-opacity="0.62" stroke="#111" stroke-opacity="0.7" stroke-width="0.7"/>
<circle cx="591" cy="263.6" r="2" fill="#1a1a1a" fill-opacity="0.62" stroke="#111" stroke-opacity="0.7" stroke-width="0.7"/>
<circle cx="595.8" cy="278.5" r="2" fill="#1a1a1a" fill-opacity="0.62" stroke="#111" stroke-opacity="0.7" stroke-width="0.7"/>
<circle cx="601" cy="266.9" r="2" fill="#1a1a1a" fill-opacity="0.62" stroke="#111" stroke-opacity="0.7" stroke-width="0.7"/>
<circle cx="600.6" cy="270.9" r="2" fill="#1a1a1a" fill-opacity="0.62" stroke="#111" stroke-opacity="0.7" stroke-width="0.7"/>
<circle cx="604.4" cy="265.6" r="2" fill="#1a1a1a" fill-opacity="0.62" stroke="#111" stroke-opacity="0.7" stroke-width="0.7"/>
<circle cx="608.3" cy="270.4" r="2" fill="#1a1a1a" fill-opacity="0.62" stroke="#111" stroke-opacity="0.7" stroke-width="0.7"/>
<circle cx="613.1" cy="263" r="2" fill="#1a1a1a" fill-opacity="0.62" stroke="#111" stroke-opacity="0.7" stroke-width="0.7"/>
<circle cx="622.8" cy="263" r="2" fill="#1a1a1a" fill-opacity="0.62" stroke="#111" stroke-opacity="0.7" stroke-width="0.7"/>
<circle cx="629.3" cy="270" r="2" fill="#1a1a1a" fill-opacity="0.62" stroke="#111" stroke-opacity="0.7" stroke-width="0.7"/>
<circle cx="628.9" cy="276.5" r="2" fill="#1a1a1a" fill-opacity="0.62" stroke="#111" stroke-opacity="0.7" stroke-width="0.7"/>
<circle cx="625.8" cy="277.8" r="2" fill="#1a1a1a" fill-opacity="0.62" stroke="#111" stroke-opacity="0.7" stroke-width="0.7"/>
<circle cx="642.9" cy="270" r="2" fill="#1a1a1a" fill-opacity="0.62" stroke="#111" stroke-opacity="0.7" stroke-width="0.7"/>
<circle cx="645.1" cy="270.8" r="2" fill="#1a1a1a" fill-opacity="0.62" stroke="#111" stroke-opacity="0.7" stroke-width="0.7"/>
<circle cx="647.7" cy="263.8" r="2" fill="#1a1a1a" fill-opacity="0.62" stroke="#111" stroke-opacity="0.7" stroke-width="0.7"/>
<circle cx="648.2" cy="259.9" r="2" fill="#1a1a1a" fill-opacity="0.62" stroke="#111" stroke-opacity="0.7" stroke-width="0.7"/>
<circle cx="651.2" cy="260.3" r="2" fill="#1a1a1a" fill-opacity="0.62" stroke="#111" stroke-opacity="0.7" stroke-width="0.7"/>
<circle cx="638.5" cy="265" r="2" fill="#1a1a1a" fill-opacity="0.62" stroke="#111" stroke-opacity="0.7" stroke-width="0.7"/>
<circle cx="633" cy="265.5" r="2" fill="#1a1a1a" fill-opacity="0.62" stroke="#111" stroke-opacity="0.7" stroke-width="0.7"/>
<circle cx="631" cy="268" r="2" fill="#1a1a1a" fill-opacity="0.62" stroke="#111" stroke-opacity="0.7" stroke-width="0.7"/>
<circle cx="640.5" cy="267.5" r="2" fill="#1a1a1a" fill-opacity="0.62" stroke="#111" stroke-opacity="0.7" stroke-width="0.7"/>
<circle cx="560.1" cy="259.79" r="2" fill="#1a1a1a" fill-opacity="0.62" stroke="#111" stroke-opacity="0.7" stroke-width="0.7"/>
<circle cx="561.12" cy="259.59" r="2" fill="#1a1a1a" fill-opacity="0.62" stroke="#111" stroke-opacity="0.7" stroke-width="0.7"/>
<circle cx="561.61" cy="260.35" r="2" fill="#1a1a1a" fill-opacity="0.62" stroke="#111" stroke-opacity="0.7" stroke-width="0.7"/>
<circle cx="561.66" cy="260.72" r="2" fill="#1a1a1a" fill-opacity="0.62" stroke="#111" stroke-opacity="0.7" stroke-width="0.7"/>
<circle cx="562.26" cy="260.53" r="2" fill="#1a1a1a" fill-opacity="0.62" stroke="#111" stroke-opacity="0.7" stroke-width="0.7"/>
<circle cx="562.92" cy="259.64" r="2" fill="#1a1a1a" fill-opacity="0.62" stroke="#111" stroke-opacity="0.7" stroke-width="0.7"/>
<circle cx="563.97" cy="261.55" r="2" fill="#1a1a1a" fill-opacity="0.62" stroke="#111" stroke-opacity="0.7" stroke-width="0.7"/>
<circle cx="564.24" cy="259.98" r="2" fill="#1a1a1a" fill-opacity="0.62" stroke="#111" stroke-opacity="0.7" stroke-width="0.7"/>
<circle cx="565.47" cy="261.86" r="2" fill="#1a1a1a" fill-opacity="0.62" stroke="#111" stroke-opacity="0.7" stroke-width="0.7"/>
<circle cx="566.03" cy="260.43" r="2" fill="#1a1a1a" fill-opacity="0.62" stroke="#111" stroke-opacity="0.7" stroke-width="0.7"/>
<circle cx="567.13" cy="259.52" r="2" fill="#1a1a1a" fill-opacity="0.62" stroke="#111" stroke-opacity="0.7" stroke-width="0.7"/>
<circle cx="567.62" cy="260.15" r="2" fill="#1a1a1a" fill-opacity="0.62" stroke="#111" stroke-opacity="0.7" stroke-width="0.7"/>
<circle cx="567.39" cy="259.71" r="2" fill="#1a1a1a" fill-opacity="0.62" stroke="#111" stroke-opacity="0.7" stroke-width="0.7"/>
<circle cx="568.21" cy="261.52" r="2" fill="#1a1a1a" fill-opacity="0.62" stroke="#111" stroke-opacity="0.7" stroke-width="0.7"/>
<circle cx="568.68" cy="260.91" r="2" fill="#1a1a1a" fill-opacity="0.62" stroke="#111" stroke-opacity="0.7" stroke-width="0.7"/>
<circle cx="569.85" cy="260.37" r="2" fill="#1a1a1a" fill-opacity="0.62" stroke="#111" stroke-opacity="0.7" stroke-width="0.7"/>
<circle cx="586.25" cy="259.4" r="2" fill="#1a1a1a" fill-opacity="0.62" stroke="#111" stroke-opacity="0.7" stroke-width="0.7"/>
<circle cx="586.44" cy="259.86" r="2" fill="#1a1a1a" fill-opacity="0.62" stroke="#111" stroke-opacity="0.7" stroke-width="0.7"/>
<circle cx="587.97" cy="260.57" r="2" fill="#1a1a1a" fill-opacity="0.62" stroke="#111" stroke-opacity="0.7" stroke-width="0.7"/>
<circle cx="588.31" cy="261.07" r="2" fill="#1a1a1a" fill-opacity="0.62" stroke="#111" stroke-opacity="0.7" stroke-width="0.7"/>
<circle cx="589.25" cy="260.16" r="2" fill="#1a1a1a" fill-opacity="0.62" stroke="#111" stroke-opacity="0.7" stroke-width="0.7"/>
<circle cx="590.44" cy="261.44" r="2" fill="#1a1a1a" fill-opacity="0.62" stroke="#111" stroke-opacity="0.7" stroke-width="0.7"/>
<circle cx="590.56" cy="261.04" r="2" fill="#1a1a1a" fill-opacity="0.62" stroke="#111" stroke-opacity="0.7" stroke-width="0.7"/>
<circle cx="591.68" cy="262" r="2" fill="#1a1a1a" fill-opacity="0.62" stroke="#111" stroke-opacity="0.7" stroke-width="0.7"/>
<circle cx="592.71" cy="260.12" r="2" fill="#1a1a1a" fill-opacity="0.62" stroke="#111" stroke-opacity="0.7" stroke-width="0.7"/>
<circle cx="593.79" cy="259.58" r="2" fill="#1a1a1a" fill-opacity="0.62" stroke="#111" stroke-opacity="0.7" stroke-width="0.7"/>
<circle cx="593.89" cy="261.62" r="2" fill="#1a1a1a" fill-opacity="0.62" stroke="#111" stroke-opacity="0.7" stroke-width="0.7"/>
<circle cx="594.35" cy="260.76" r="2" fill="#1a1a1a" fill-opacity="0.62" stroke="#111" stroke-opacity="0.7" stroke-width="0.7"/>
<circle cx="595" cy="261.34" r="2" fill="#1a1a1a" fill-opacity="0.62" stroke="#111" stroke-opacity="0.7" stroke-width="0.7"/>
<circle cx="596.65" cy="261.03" r="2" fill="#1a1a1a" fill-opacity="0.62" stroke="#111" stroke-opacity="0.7" stroke-width="0.7"/>
<circle cx="597.56" cy="260.2" r="2" fill="#1a1a1a" fill-opacity="0.62" stroke="#111" stroke-opacity="0.7" stroke-width="0.7"/>
<circle cx="598.12" cy="261.1" r="2" fill="#1a1a1a" fill-opacity="0.62" stroke="#111" stroke-opacity="0.7" stroke-width="0.7"/>
<circle cx="598.77" cy="260.66" r="2" fill="#1a1a1a" fill-opacity="0.62" stroke="#111" stroke-opacity="0.7" stroke-width="0.7"/>
<circle cx="599.86" cy="262.22" r="2" fill="#1a1a1a" fill-opacity="0.62" stroke="#111" stroke-opacity="0.7" stroke-width="0.7"/>
<circle cx="600.2" cy="261.33" r="2" fill="#1a1a1a" fill-opacity="0.62" stroke="#111" stroke-opacity="0.7" stroke-width="0.7"/>
<circle cx="600.48" cy="261.44" r="2" fill="#1a1a1a" fill-opacity="0.62" stroke="#111" stroke-opacity="0.7" stroke-width="0.7"/>
<circle cx="601.97" cy="262.38" r="2" fill="#1a1a1a" fill-opacity="0.62" stroke="#111" stroke-opacity="0.7" stroke-width="0.7"/>
<circle cx="602.96" cy="260.11" r="2" fill="#1a1a1a" fill-opacity="0.62" stroke="#111" stroke-opacity="0.7" stroke-width="0.7"/>
<circle cx="603.21" cy="261.34" r="2" fill="#1a1a1a" fill-opacity="0.62" stroke="#111" stroke-opacity="0.7" stroke-width="0.7"/>
<circle cx="603.56" cy="260.68" r="2" fill="#1a1a1a" fill-opacity="0.62" stroke="#111" stroke-opacity="0.7" stroke-width="0.7"/>
<circle cx="604.51" cy="259.57" r="2" fill="#1a1a1a" fill-opacity="0.62" stroke="#111" stroke-opacity="0.7" stroke-width="0.7"/>
<circle cx="605.16" cy="261.66" r="2" fill="#1a1a1a" fill-opacity="0.62" stroke="#111" stroke-opacity="0.7" stroke-width="0.7"/>
<circle cx="606.03" cy="259.99" r="2" fill="#1a1a1a" fill-opacity="0.62" stroke="#111" stroke-opacity="0.7" stroke-width="0.7"/>
<circle cx="607.12" cy="261.99" r="2" fill="#1a1a1a" fill-opacity="0.62" stroke="#111" stroke-opacity="0.7" stroke-width="0.7"/>
<circle cx="607.53" cy="260.64" r="2" fill="#1a1a1a" fill-opacity="0.62" stroke="#111" stroke-opacity="0.7" stroke-width="0.7"/>
<circle cx="608.87" cy="262.03" r="2" fill="#1a1a1a" fill-opacity="0.62" stroke="#111" stroke-opacity="0.7" stroke-width="0.7"/>
<circle cx="609.97" cy="261.96" r="2" fill="#1a1a1a" fill-opacity="0.62" stroke="#111" stroke-opacity="0.7" stroke-width="0.7"/>
<circle cx="610.1" cy="260.53" r="2" fill="#1a1a1a" fill-opacity="0.62" stroke="#111" stroke-opacity="0.7" stroke-width="0.7"/>
<circle cx="610.98" cy="262.03" r="2" fill="#1a1a1a" fill-opacity="0.62" stroke="#111" stroke-opacity="0.7" stroke-width="0.7"/>
<circle cx="612.48" cy="259.68" r="2" fill="#1a1a1a" fill-opacity="0.62" stroke="#111" stroke-opacity="0.7" stroke-width="0.7"/>
<circle cx="612.32" cy="259.94" r="2" fill="#1a1a1a" fill-opacity="0.62" stroke="#111" stroke-opacity="0.7" stroke-width="0.7"/>
<circle cx="613.17" cy="260.75" r="2" fill="#1a1a1a" fill-opacity="0.62" stroke="#111" stroke-opacity="0.7" stroke-width="0.7"/>
<circle cx="614.38" cy="260.04" r="2" fill="#1a1a1a" fill-opacity="0.62" stroke="#111" stroke-opacity="0.7" stroke-width="0.7"/>
<circle cx="614.45" cy="260.54" r="2" fill="#1a1a1a" fill-opacity="0.62" stroke="#111" stroke-opacity="0.7" stroke-width="0.7"/>
<circle cx="615.67" cy="261.01" r="2" fill="#1a1a1a" fill-opacity="0.62" stroke="#111" stroke-opacity="0.7" stroke-width="0.7"/>
<circle cx="617.15" cy="261.41" r="2" fill="#1a1a1a" fill-opacity="0.62" stroke="#111" stroke-opacity="0.7" stroke-width="0.7"/>
<circle cx="622.34" cy="262.34" r="2" fill="#1a1a1a" fill-opacity="0.62" stroke="#111" stroke-opacity="0.7" stroke-width="0.7"/>
<circle cx="623.17" cy="259.29" r="2" fill="#1a1a1a" fill-opacity="0.62" stroke="#111" stroke-opacity="0.7" stroke-width="0.7"/>
<circle cx="624.08" cy="263.21" r="2" fill="#1a1a1a" fill-opacity="0.62" stroke="#111" stroke-opacity="0.7" stroke-width="0.7"/>
<circle cx="624.69" cy="263.31" r="2" fill="#1a1a1a" fill-opacity="0.62" stroke="#111" stroke-opacity="0.7" stroke-width="0.7"/>
<circle cx="624.75" cy="261.15" r="2" fill="#1a1a1a" fill-opacity="0.62" stroke="#111" stroke-opacity="0.7" stroke-width="0.7"/>
<circle cx="625.04" cy="262.43" r="2" fill="#1a1a1a" fill-opacity="0.62" stroke="#111" stroke-opacity="0.7" stroke-width="0.7"/>
<circle cx="625.63" cy="259.36" r="2" fill="#1a1a1a" fill-opacity="0.62" stroke="#111" stroke-opacity="0.7" stroke-width="0.7"/>
<circle cx="626.44" cy="259.88" r="2" fill="#1a1a1a" fill-opacity="0.62" stroke="#111" stroke-opacity="0.7" stroke-width="0.7"/>
<circle cx="627.24" cy="259.28" r="2" fill="#1a1a1a" fill-opacity="0.62" stroke="#111" stroke-opacity="0.7" stroke-width="0.7"/>
<circle cx="627.47" cy="259.82" r="2" fill="#1a1a1a" fill-opacity="0.62" stroke="#111" stroke-opacity="0.7" stroke-width="0.7"/>
<circle cx="628.23" cy="260.96" r="2" fill="#1a1a1a" fill-opacity="0.62" stroke="#111" stroke-opacity="0.7" stroke-width="0.7"/>
<circle cx="628.78" cy="263.72" r="2" fill="#1a1a1a" fill-opacity="0.62" stroke="#111" stroke-opacity="0.7" stroke-width="0.7"/>
<circle cx="630.12" cy="259.8" r="2" fill="#1a1a1a" fill-opacity="0.62" stroke="#111" stroke-opacity="0.7" stroke-width="0.7"/>
<circle cx="630.33" cy="260.88" r="2" fill="#1a1a1a" fill-opacity="0.62" stroke="#111" stroke-opacity="0.7" stroke-width="0.7"/>
<circle cx="631.1" cy="259.66" r="2" fill="#1a1a1a" fill-opacity="0.62" stroke="#111" stroke-opacity="0.7" stroke-width="0.7"/>
<circle cx="632.32" cy="264.36" r="2" fill="#1a1a1a" fill-opacity="0.62" stroke="#111" stroke-opacity="0.7" stroke-width="0.7"/>
<circle cx="632.5" cy="261.61" r="2" fill="#1a1a1a" fill-opacity="0.62" stroke="#111" stroke-opacity="0.7" stroke-width="0.7"/>
<circle cx="632.68" cy="259.55" r="2" fill="#1a1a1a" fill-opacity="0.62" stroke="#111" stroke-opacity="0.7" stroke-width="0.7"/>
<circle cx="633.63" cy="260.43" r="2" fill="#1a1a1a" fill-opacity="0.62" stroke="#111" stroke-opacity="0.7" stroke-width="0.7"/>
<circle cx="634.85" cy="259.87" r="2" fill="#1a1a1a" fill-opacity="0.62" stroke="#111" stroke-opacity="0.7" stroke-width="0.7"/>
<circle cx="634.52" cy="264.14" r="2" fill="#1a1a1a" fill-opacity="0.62" stroke="#111" stroke-opacity="0.7" stroke-width="0.7"/>
<circle cx="635.77" cy="259.79" r="2" fill="#1a1a1a" fill-opacity="0.62" stroke="#111" stroke-opacity="0.7" stroke-width="0.7"/>
<circle cx="636.43" cy="259.15" r="2" fill="#1a1a1a" fill-opacity="0.62" stroke="#111" stroke-opacity="0.7" stroke-width="0.7"/>
<circle cx="637.05" cy="264.28" r="2" fill="#1a1a1a" fill-opacity="0.62" stroke="#111" stroke-opacity="0.7" stroke-width="0.7"/>
<circle cx="638.09" cy="262.76" r="2" fill="#1a1a1a" fill-opacity="0.62" stroke="#111" stroke-opacity="0.7" stroke-width="0.7"/>
<circle cx="638.01" cy="260.98" r="2" fill="#1a1a1a" fill-opacity="0.62" stroke="#111" stroke-opacity="0.7" stroke-width="0.7"/>
<circle cx="638.53" cy="263.17" r="2" fill="#1a1a1a" fill-opacity="0.62" stroke="#111" stroke-opacity="0.7" stroke-width="0.7"/>
<circle cx="639.61" cy="263.21" r="2" fill="#1a1a1a" fill-opacity="0.62" stroke="#111" stroke-opacity="0.7" stroke-width="0.7"/>
<circle cx="640" cy="260.2" r="2" fill="#1a1a1a" fill-opacity="0.62" stroke="#111" stroke-opacity="0.7" stroke-width="0.7"/>
<circle cx="641.22" cy="264.32" r="2" fill="#1a1a1a" fill-opacity="0.62" stroke="#111" stroke-opacity="0.7" stroke-width="0.7"/>
<circle cx="641.91" cy="263.35" r="2" fill="#1a1a1a" fill-opacity="0.62" stroke="#111" stroke-opacity="0.7" stroke-width="0.7"/>
<circle cx="642.51" cy="263" r="2" fill="#1a1a1a" fill-opacity="0.62" stroke="#111" stroke-opacity="0.7" stroke-width="0.7"/>
<circle cx="642.44" cy="261.8" r="2" fill="#1a1a1a" fill-opacity="0.62" stroke="#111" stroke-opacity="0.7" stroke-width="0.7"/>
<circle cx="643.23" cy="259.16" r="2" fill="#1a1a1a" fill-opacity="0.62" stroke="#111" stroke-opacity="0.7" stroke-width="0.7"/>
<circle cx="643.48" cy="260.51" r="2" fill="#1a1a1a" fill-opacity="0.62" stroke="#111" stroke-opacity="0.7" stroke-width="0.7"/>
<circle cx="644.39" cy="262.74" r="2" fill="#1a1a1a" fill-opacity="0.62" stroke="#111" stroke-opacity="0.7" stroke-width="0.7"/>
<circle cx="563" cy="344.4" r="2" fill="#ccc" fill-opacity="0.8" stroke="#ccc" stroke-width="0.6"/>
<path d="M563.4 262.6 L569.4 262.6 L568.6 265 L567.6 268.5 L566.9 272 L566.5 275 L566.1 272 L565.5 268.5 L564.6 265 Z" fill="#F8766D" stroke="#333" stroke-width="0.5"/>
<line x1="566.5" y1="274" x2="566.5" y2="374.4" stroke="#333" stroke-width="1.1"/>
<path d="M599.6 261.8 L603.6 261.8 L603 262.5 L602 267 L601.6 269 L601.2 267 L600.2 262.5 Z" fill="#00BA38" stroke="#333" stroke-width="0.6"/>
<line x1="601.5" y1="266" x2="601.5" y2="304.4" stroke="#333" stroke-width="1.1"/>
<path d="M635 262 L639.6 262 L638.8 263 L638 267.5 L637.2 270.5 L636.2 267.5 L635.4 263 Z" fill="#619CFF" stroke="#333" stroke-width="0.6"/>
<line x1="637.5" y1="268" x2="637.5" y2="298.6" stroke="#333" stroke-width="1.1"/>
<line x1="661.4" y1="258" x2="661.4" y2="376" stroke="#e8e8e8" stroke-width="0.5"/>
<rect x="661.4" y="260.2" width="20.2" height="2.8" fill="#619CFF"/>
<rect x="661.4" y="263" width="24.1" height="2.5" fill="#00BA38"/>
<rect x="661.4" y="265.5" width="19" height="3.8" fill="#F8766D"/>
<rect x="661.4" y="269.3" width="6.5" height="3" fill="#619CFF"/>
<rect x="661.4" y="272.3" width="3.2" height="3.2" fill="#00BA38"/>
<rect x="661.4" y="275.5" width="5.9" height="3.1" fill="#F8766D"/>
<rect x="661.4" y="278.6" width="1.1" height="2.4" fill="#619CFF"/>
<rect x="661.4" y="281" width="0.6" height="2.6" fill="#00BA38"/>
<rect x="661.4" y="285.7" width="1.6" height="2.7" fill="#F8766D"/>
<rect x="661.4" y="297.9" width="1.1" height="2.3" fill="#619CFF"/>
<rect x="661.4" y="301.8" width="1.6" height="2.7" fill="#00BA38"/>
<rect x="661.4" y="304.5" width="1.4" height="3" fill="#F8766D"/>
<rect x="661.4" y="342.9" width="0.6" height="2.5" fill="#F8766D"/>
<rect x="661.4" y="371.4" width="0.6" height="2.6" fill="#F8766D"/>
<line x1="545.5" y1="254" x2="545.5" y2="380.5" stroke="#000" stroke-width="1.1"/>
<line x1="545" y1="380" x2="657.6" y2="380" stroke="#000" stroke-width="1.1"/>
<line x1="566.5" y1="380" x2="566.5" y2="382.6" stroke="#000" stroke-width="1"/>
<text x="566.3" y="391.8" font-size="9.1" text-anchor="middle" fill="#000" stroke="#000" stroke-width="0.18" stroke-opacity="0.6">1</text>
<line x1="601.5" y1="380" x2="601.5" y2="382.6" stroke="#000" stroke-width="1"/>
<text x="601.6" y="391.8" font-size="9.1" text-anchor="middle" fill="#000" stroke="#000" stroke-width="0.18" stroke-opacity="0.6">2</text>
<line x1="637.5" y1="380" x2="637.5" y2="382.6" stroke="#000" stroke-width="1"/>
<text x="637" y="391.8" font-size="9.1" text-anchor="middle" fill="#000" stroke="#000" stroke-width="0.18" stroke-opacity="0.6">3</text>
<text x="514.7" y="317.5" font-size="10.4" font-weight="bold" text-anchor="middle" fill="#000" stroke="#000" stroke-width="0.18" stroke-opacity="0.6" transform="rotate(-90 514.7 317.5)">Pearson R</text>
<text x="601.7" y="407.6" font-size="10.9" font-weight="bold" text-anchor="middle" fill="#000" stroke="#000" stroke-width="0.18" stroke-opacity="0.6">Batch</text>
<text x="12.5" y="431.7" font-size="20" font-weight="bold" fill="#000">E</text>
<text x="100" y="442.2" font-size="10.6" font-style="italic" fill="#000" stroke="#000" stroke-width="0.18" stroke-opacity="0.6">Batch</text>
<rect x="133" y="432" width="11.4" height="11.2" fill="#D9D9D9"/>
<line x1="134" y1="437.6" x2="143.4" y2="437.6" stroke="#F8766D" stroke-width="1.2"/>
<circle cx="138.7" cy="437.6" r="1.2" fill="#F8766D"/>
<text x="148" y="441.4" font-size="9.6" fill="#000" stroke="#000" stroke-width="0.18" stroke-opacity="0.6">1</text>
<rect x="160.2" y="432" width="11.4" height="11.2" fill="#D9D9D9"/>
<line x1="161.2" y1="437.6" x2="170.6" y2="437.6" stroke="#00BA38" stroke-width="1.2"/>
<circle cx="165.9" cy="437.6" r="1.2" fill="#00BA38"/>
<text x="174.6" y="441.4" font-size="9.6" fill="#000" stroke="#000" stroke-width="0.18" stroke-opacity="0.6">2</text>
<rect x="187.4" y="432" width="11.4" height="11.2" fill="#D9D9D9"/>
<line x1="188.4" y1="437.6" x2="197.8" y2="437.6" stroke="#619CFF" stroke-width="1.2"/>
<circle cx="193.1" cy="437.6" r="1.2" fill="#619CFF"/>
<text x="201.2" y="441.4" font-size="9.6" fill="#000" stroke="#000" stroke-width="0.18" stroke-opacity="0.6">3</text>
<line x1="70.4" y1="454" x2="70.4" y2="600.5" stroke="#EBEBEB" stroke-width="0.7"/>
<line x1="113.6" y1="454" x2="113.6" y2="600.5" stroke="#EBEBEB" stroke-width="0.7"/>
<line x1="156.8" y1="454" x2="156.8" y2="600.5" stroke="#EBEBEB" stroke-width="0.7"/>
<line x1="200" y1="454" x2="200" y2="600.5" stroke="#EBEBEB" stroke-width="0.7"/>
<line x1="58.5" y1="590.4" x2="233.6" y2="590.4" stroke="#EBEBEB" stroke-width="0.7"/>
<line x1="55.9" y1="590.5" x2="58.5" y2="590.5" stroke="#000" stroke-width="1"/>
<text x="54.7" y="593.69" font-size="9.4" text-anchor="end" fill="#000" stroke="#000" stroke-width="0.18" stroke-opacity="0.6">0.0</text>
<line x1="58.5" y1="553.7" x2="233.6" y2="553.7" stroke="#EBEBEB" stroke-width="0.7"/>
<line x1="55.9" y1="553.5" x2="58.5" y2="553.5" stroke="#000" stroke-width="1"/>
<text x="54.7" y="556.99" font-size="9.4" text-anchor="end" fill="#000" stroke="#000" stroke-width="0.18" stroke-opacity="0.6">0.2</text>
<line x1="58.5" y1="517" x2="233.6" y2="517" stroke="#EBEBEB" stroke-width="0.7"/>
<line x1="55.9" y1="517.5" x2="58.5" y2="517.5" stroke="#000" stroke-width="1"/>
<text x="54.7" y="520.29" font-size="9.4" text-anchor="end" fill="#000" stroke="#000" stroke-width="0.18" stroke-opacity="0.6">0.4</text>
<line x1="58.5" y1="480.3" x2="233.6" y2="480.3" stroke="#EBEBEB" stroke-width="0.7"/>
<line x1="55.9" y1="480.5" x2="58.5" y2="480.5" stroke="#000" stroke-width="1"/>
<text x="54.7" y="483.59" font-size="9.4" text-anchor="end" fill="#000" stroke="#000" stroke-width="0.18" stroke-opacity="0.6">0.6</text>
<circle cx="95" cy="524" r="1.6" fill="#F8766D"/>
<circle cx="117.1" cy="533.8" r="1.6" fill="#F8766D"/>
<circle cx="87.2" cy="554.4" r="1.6" fill="#F8766D"/>
<circle cx="105.3" cy="563.4" r="1.6" fill="#F8766D"/>
<circle cx="111.6" cy="558.4" r="1.6" fill="#F8766D"/>
<circle cx="115.6" cy="562" r="1.6" fill="#F8766D"/>
<circle cx="118.8" cy="560.7" r="1.6" fill="#F8766D"/>
<circle cx="110.8" cy="566.3" r="1.6" fill="#F8766D"/>
<circle cx="77.4" cy="570.2" r="1.6" fill="#F8766D"/>
<circle cx="86.6" cy="570.2" r="1.6" fill="#F8766D"/>
<circle cx="89.5" cy="579.8" r="1.6" fill="#F8766D"/>
<circle cx="83.6" cy="585.3" r="1.6" fill="#F8766D"/>
<circle cx="80.6" cy="585.3" r="1.6" fill="#F8766D"/>
<circle cx="77.4" cy="588.1" r="1.6" fill="#F8766D"/>
<circle cx="67.2" cy="585.7" r="1.6" fill="#F8766D"/>
<circle cx="68.5" cy="589" r="1.6" fill="#F8766D"/>
<circle cx="135.5" cy="564" r="1.6" fill="#F8766D"/>
<circle cx="157.8" cy="491.3" r="1.6" fill="#F8766D"/>
<circle cx="162.9" cy="490.6" r="1.6" fill="#F8766D"/>
<circle cx="187.2" cy="506.2" r="1.6" fill="#F8766D"/>
<circle cx="155.3" cy="517.3" r="1.6" fill="#F8766D"/>
<circle cx="158.7" cy="514.9" r="1.6" fill="#F8766D"/>
<circle cx="210.5" cy="511.3" r="1.6" fill="#F8766D"/>
<circle cx="209.3" cy="485.8" r="1.6" fill="#F8766D"/>
<circle cx="209.3" cy="468.3" r="1.6" fill="#F8766D"/>
<circle cx="219.3" cy="466.9" r="1.6" fill="#F8766D"/>
<circle cx="208.7" cy="472.9" r="1.6" fill="#F8766D"/>
<circle cx="218.4" cy="470.5" r="1.6" fill="#F8766D"/>
<circle cx="74" cy="590" r="1.6" fill="#F8766D"/>
<circle cx="81.7" cy="519.9" r="1.6" fill="#00BA38"/>
<circle cx="115.4" cy="532.8" r="1.6" fill="#00BA38"/>
<circle cx="119.5" cy="543.3" r="1.6" fill="#00BA38"/>
<circle cx="66.5" cy="549.6" r="1.6" fill="#00BA38"/>
<circle cx="86.6" cy="559.8" r="1.6" fill="#00BA38"/>
<circle cx="101.4" cy="557.2" r="1.6" fill="#00BA38"/>
<circle cx="103.6" cy="556.4" r="1.6" fill="#00BA38"/>
<circle cx="99.4" cy="561.8" r="1.6" fill="#00BA38"/>
<circle cx="109" cy="561.1" r="1.6" fill="#00BA38"/>
<circle cx="109.2" cy="566.3" r="1.6" fill="#00BA38"/>
<circle cx="71.1" cy="567.3" r="1.6" fill="#00BA38"/>
<circle cx="74.8" cy="568.9" r="1.6" fill="#00BA38"/>
<circle cx="84.3" cy="571.9" r="1.6" fill="#00BA38"/>
<circle cx="96.4" cy="572.3" r="1.6" fill="#00BA38"/>
<circle cx="96.4" cy="574.1" r="1.6" fill="#00BA38"/>
<circle cx="87.2" cy="579.8" r="1.6" fill="#00BA38"/>
<circle cx="85.6" cy="581.1" r="1.6" fill="#00BA38"/>
<circle cx="99.4" cy="592.7" r="1.6" fill="#00BA38"/>
<circle cx="137.9" cy="565.7" r="1.6" fill="#00BA38"/>
<circle cx="137.5" cy="575.8" r="1.6" fill="#00BA38"/>
<circle cx="136.8" cy="513.7" r="1.6" fill="#00BA38"/>
<circle cx="149" cy="488.8" r="1.6" fill="#00BA38"/>
<circle cx="171.2" cy="491.6" r="1.6" fill="#00BA38"/>
<circle cx="183" cy="505.8" r="1.6" fill="#00BA38"/>
<circle cx="179.3" cy="519.3" r="1.6" fill="#00BA38"/>
<circle cx="214.9" cy="513.5" r="1.6" fill="#00BA38"/>
<circle cx="225.6" cy="489.5" r="1.6" fill="#00BA38"/>
<circle cx="210.7" cy="468.3" r="1.6" fill="#00BA38"/>
<circle cx="212.1" cy="472.2" r="1.6" fill="#00BA38"/>
<circle cx="70" cy="585" r="1.6" fill="#00BA38"/>
<circle cx="77.7" cy="551.8" r="1.6" fill="#619CFF"/>
<circle cx="92.4" cy="559.8" r="1.6" fill="#619CFF"/>
<circle cx="93.7" cy="561.1" r="1.6" fill="#619CFF"/>
<circle cx="98.7" cy="556.8" r="1.6" fill="#619CFF"/>
<circle cx="118.8" cy="561.8" r="1.6" fill="#619CFF"/>
<circle cx="107.7" cy="565.7" r="1.6" fill="#619CFF"/>
<circle cx="74.4" cy="570.2" r="1.6" fill="#619CFF"/>
<circle cx="84.3" cy="569.5" r="1.6" fill="#619CFF"/>
<circle cx="100.3" cy="573" r="1.6" fill="#619CFF"/>
<circle cx="92.4" cy="576.2" r="1.6" fill="#619CFF"/>
<circle cx="79" cy="585.3" r="1.6" fill="#619CFF"/>
<circle cx="74.4" cy="588.7" r="1.6" fill="#619CFF"/>
<circle cx="136.2" cy="566.6" r="1.6" fill="#619CFF"/>
<circle cx="140.4" cy="511.1" r="1.6" fill="#619CFF"/>
<circle cx="174.7" cy="492.6" r="1.6" fill="#619CFF"/>
<circle cx="181.3" cy="495.8" r="1.6" fill="#619CFF"/>
<circle cx="165.4" cy="502.7" r="1.6" fill="#619CFF"/>
<circle cx="171.9" cy="503.4" r="1.6" fill="#619CFF"/>
<circle cx="140.7" cy="511" r="1.6" fill="#619CFF"/>
<circle cx="174" cy="521.4" r="1.6" fill="#619CFF"/>
<circle cx="148.6" cy="534.2" r="1.6" fill="#619CFF"/>
<circle cx="214.2" cy="487.2" r="1.6" fill="#619CFF"/>
<circle cx="212.8" cy="468.7" r="1.6" fill="#619CFF"/>
<circle cx="216.3" cy="466.2" r="1.6" fill="#619CFF"/>
<circle cx="218.4" cy="474.3" r="1.6" fill="#619CFF"/>
<circle cx="71" cy="589" r="1.6" fill="#619CFF"/>
<circle cx="82" cy="583" r="1.6" fill="#619CFF"/>
<path d="M66.1 581 L150 523.8 L225.6 461.1 L225.6 485.4 L150 530.8 L66.1 593.6 Z" fill="#999" fill-opacity="0.4"/>
<path d="M66.6 584 L150 521.8 L220 462.5 L220 478.5 L150 527.3 L66.6 593.2 Z" fill="#999" fill-opacity="0.3"/>
<path d="M67.2 583.8 L150 521.5 L218.4 462.8 L218.4 480.2 L150 527.5 L67.2 592.8 Z" fill="#999" fill-opacity="0.4"/>
<line x1="66.6" y1="588.7" x2="220" y2="470.3" stroke="#F8766D" stroke-width="1.4"/>
<line x1="66.1" y1="587.3" x2="225.6" y2="473.3" stroke="#00BA38" stroke-width="1.4"/>
<line x1="67.2" y1="588.3" x2="218.4" y2="471.5" stroke="#619CFF" stroke-width="1.9"/>
<text x="66.6" y="474.6" font-size="7.5" fill="#F8766D" stroke="#F8766D" stroke-width="0.18" stroke-opacity="0.6"><tspan font-style="italic">R</tspan> = 0.95, <tspan font-style="italic">p</tspan> &lt; 2.2e−16</text>
<text x="66.6" y="483.85" font-size="7.5" fill="#00BA38" stroke="#00BA38" stroke-width="0.18" stroke-opacity="0.6"><tspan font-style="italic">R</tspan> = 0.9, <tspan font-style="italic">p</tspan> &lt; 2.2e−16</text>
<text x="66.6" y="493.1" font-size="7.5" fill="#619CFF" stroke="#619CFF" stroke-width="0.18" stroke-opacity="0.6"><tspan font-style="italic">R</tspan> = 0.97, <tspan font-style="italic">p</tspan> &lt; 2.2e−16</text>
<line x1="58.5" y1="454" x2="58.5" y2="601" stroke="#000" stroke-width="1.1"/>
<line x1="58" y1="600.5" x2="233.6" y2="600.5" stroke="#000" stroke-width="1.1"/>
<line x1="70.5" y1="600.5" x2="70.5" y2="603.1" stroke="#000" stroke-width="1"/>
<text x="70.4" y="613" font-size="9.4" text-anchor="middle" fill="#000" stroke="#000" stroke-width="0.18" stroke-opacity="0.6">0.0</text>
<line x1="113.5" y1="600.5" x2="113.5" y2="603.1" stroke="#000" stroke-width="1"/>
<text x="113.6" y="613" font-size="9.4" text-anchor="middle" fill="#000" stroke="#000" stroke-width="0.18" stroke-opacity="0.6">0.2</text>
<line x1="156.5" y1="600.5" x2="156.5" y2="603.1" stroke="#000" stroke-width="1"/>
<text x="156.8" y="613" font-size="9.4" text-anchor="middle" fill="#000" stroke="#000" stroke-width="0.18" stroke-opacity="0.6">0.4</text>
<line x1="200.5" y1="600.5" x2="200.5" y2="603.1" stroke="#000" stroke-width="1"/>
<text x="200" y="613" font-size="9.4" text-anchor="middle" fill="#000" stroke="#000" stroke-width="0.18" stroke-opacity="0.6">0.6</text>
<text x="16" y="527" font-size="11" font-weight="bold" text-anchor="middle" fill="#000" stroke="#000" stroke-width="0.18" stroke-opacity="0.6" transform="rotate(-90 16 527)">Pseudobulk</text>
<text x="33.2" y="527" font-size="10.8" font-weight="bold" text-anchor="middle" fill="#000" stroke="#000" stroke-width="0.18" stroke-opacity="0.6" transform="rotate(-90 33.2 527)">Log<tspan font-size="7.5" font-weight="normal" dy="2.5">2</tspan><tspan dy="-2.5"> mean relative abundance</tspan></text>
<text x="146.4" y="627.6" font-size="11" font-weight="bold" text-anchor="middle" fill="#000" stroke="#000" stroke-width="0.18" stroke-opacity="0.6">Bulk</text>
<text x="146.3" y="643.2" font-size="10.8" font-weight="bold" text-anchor="middle" fill="#000" stroke="#000" stroke-width="0.18" stroke-opacity="0.6">Log<tspan font-size="7.5" font-weight="normal" dy="2.5">2</tspan><tspan dy="-2.5"> mean relative abundance</tspan></text>
<text x="250.5" y="435.6" font-size="20" font-weight="bold" fill="#000">F</text>
<text x="316" y="446" font-size="13" font-style="italic" fill="#000" stroke="#000" stroke-width="0.18" stroke-opacity="0.6">Batch</text>
<text x="317" y="460.6" font-size="13" font-style="italic" fill="#000" stroke="#000" stroke-width="0.18" stroke-opacity="0.6">Multiplier</text>
<circle cx="363" cy="441.2" r="5" fill="#F8766D"/>
<text x="377.6" y="445.4" font-size="10.6" fill="#000" stroke="#000" stroke-width="0.18" stroke-opacity="0.6">1</text>
<circle cx="397" cy="441.2" r="5" fill="#00BA38"/>
<text x="411.6" y="445.4" font-size="10.6" fill="#000" stroke="#000" stroke-width="0.18" stroke-opacity="0.6">2</text>
<circle cx="431" cy="441.2" r="5" fill="#619CFF"/>
<text x="445.6" y="445.4" font-size="10.6" fill="#000" stroke="#000" stroke-width="0.18" stroke-opacity="0.6">3</text>
<circle cx="383.6" cy="455.6" r="2.6" fill="#000"/>
<text x="397.6" y="459.8" font-size="10.6" fill="#000" stroke="#000" stroke-width="0.18" stroke-opacity="0.6">1</text>
<path d="M418 450.8 L422.4 458.8 L413.6 458.8 Z" fill="#000"/>
<text x="432.4" y="459.8" font-size="10.6" fill="#000" stroke="#000" stroke-width="0.18" stroke-opacity="0.6">100</text>
<line x1="293.7" y1="476" x2="293.7" y2="610.5" stroke="#EBEBEB" stroke-width="0.7"/>
<line x1="347" y1="476" x2="347" y2="610.5" stroke="#EBEBEB" stroke-width="0.7"/>
<line x1="400.3" y1="476" x2="400.3" y2="610.5" stroke="#EBEBEB" stroke-width="0.7"/>
<line x1="453.6" y1="476" x2="453.6" y2="610.5" stroke="#EBEBEB" stroke-width="0.7"/>
<line x1="288" y1="565.6" x2="478" y2="565.6" stroke="#EBEBEB" stroke-width="0.7"/>
<line x1="285.4" y1="565.5" x2="288" y2="565.5" stroke="#000" stroke-width="1"/>
<text x="282" y="569.45" font-size="11" text-anchor="end" fill="#000" stroke="#000" stroke-width="0.18" stroke-opacity="0.6">0</text>
<line x1="288" y1="515" x2="478" y2="515" stroke="#EBEBEB" stroke-width="0.7"/>
<line x1="285.4" y1="515.5" x2="288" y2="515.5" stroke="#000" stroke-width="1"/>
<text x="282" y="518.85" font-size="11" text-anchor="end" fill="#000" stroke="#000" stroke-width="0.18" stroke-opacity="0.6">5</text>
<line x1="288" y1="565.6" x2="478" y2="565.6" stroke="#333" stroke-width="1.2" stroke-dasharray="5.2 2.0"/>
<line x1="400.3" y1="476" x2="400.3" y2="610.5" stroke="#333" stroke-width="1.2" stroke-dasharray="5.2 2.0"/>
<circle cx="424" cy="538.4" r="2.9" fill="#F8766D"/>
<circle cx="386" cy="558" r="2.9" fill="#00BA38"/>
<circle cx="416" cy="554.4" r="2.9" fill="#F8766D"/>
<circle cx="426" cy="554" r="2.9" fill="#F8766D"/>
<circle cx="433.6" cy="558.6" r="2.9" fill="#F8766D"/>
<circle cx="411" cy="561.6" r="2.9" fill="#00BA38"/>
<circle cx="404" cy="565.6" r="2.9" fill="#619CFF"/>
<circle cx="386" cy="568.6" r="2.9" fill="#00BA38"/>
<circle cx="418" cy="574.4" r="2.9" fill="#00BA38"/>
<circle cx="420" cy="577.6" r="2.9" fill="#F8766D"/>
<circle cx="426.6" cy="579" r="2.9" fill="#F8766D"/>
<circle cx="413" cy="579.4" r="2.9" fill="#619CFF"/>
<circle cx="460" cy="584" r="2.9" fill="#F8766D"/>
<circle cx="383.6" cy="596.8" r="2.9" fill="#619CFF"/>
<circle cx="390.4" cy="600.8" r="2.9" fill="#619CFF"/>
<circle cx="411.6" cy="596.6" r="2.9" fill="#F8766D"/>
<path d="M306 570.8 L310.2 578 L301.8 578 Z" fill="#F8766D"/>
<path d="M332 552.4 L336.2 559.6 L327.8 559.6 Z" fill="#F8766D"/>
<path d="M346 541.4 L350.2 548.6 L341.8 548.6 Z" fill="#F8766D"/>
<path d="M410 480.4 L414.2 487.6 L405.8 487.6 Z" fill="#619CFF"/>
<line x1="288" y1="476" x2="288" y2="611" stroke="#000" stroke-width="1.1"/>
<line x1="287.5" y1="610.5" x2="478" y2="610.5" stroke="#000" stroke-width="1.1"/>
<line x1="293.5" y1="610.5" x2="293.5" y2="613.1" stroke="#000" stroke-width="1"/>
<text x="293.7" y="624.8" font-size="10.6" text-anchor="middle" fill="#000" stroke="#000" stroke-width="0.18" stroke-opacity="0.6">−10</text>
<line x1="347.5" y1="610.5" x2="347.5" y2="613.1" stroke="#000" stroke-width="1"/>
<text x="347" y="624.8" font-size="10.6" text-anchor="middle" fill="#000" stroke="#000" stroke-width="0.18" stroke-opacity="0.6">−5</text>
<line x1="400.5" y1="610.5" x2="400.5" y2="613.1" stroke="#000" stroke-width="1"/>
<text x="400.3" y="624.8" font-size="10.6" text-anchor="middle" fill="#000" stroke="#000" stroke-width="0.18" stroke-opacity="0.6">0</text>
<line x1="453.5" y1="610.5" x2="453.5" y2="613.1" stroke="#000" stroke-width="1"/>
<text x="453.6" y="624.8" font-size="10.6" text-anchor="middle" fill="#000" stroke="#000" stroke-width="0.18" stroke-opacity="0.6">5</text>
<text x="265.2" y="543.6" font-size="13.2" font-weight="bold" text-anchor="middle" fill="#000" stroke="#000" stroke-width="0.18" stroke-opacity="0.6" transform="rotate(-90 265.2 543.6)">PC2, 18.23% variation</text>
<text x="383" y="643.8" font-size="13.2" font-weight="bold" text-anchor="middle" fill="#000" stroke="#000" stroke-width="0.18" stroke-opacity="0.6">PC1, 33.88% variation</text>
<text x="496.1" y="435.3" font-size="20" font-weight="bold" fill="#000">G</text>
<text x="534.4" y="441.8" font-size="7.8" font-style="italic" fill="#000" stroke="#000" stroke-width="0.18" stroke-opacity="0.6">Modification</text>
<rect x="580" y="435" width="8" height="7.4" fill="#3A6BAF"/>
<text x="592" y="441.2" font-size="5.7" fill="#000" stroke="#000" stroke-width="0.18" stroke-opacity="0.6">me</text>
<rect x="605" y="435" width="8" height="7.4" fill="#FBB163"/>
<text x="617" y="441.2" font-size="5.7" fill="#000" stroke="#000" stroke-width="0.18" stroke-opacity="0.6">me2</text>
<rect x="633" y="435" width="8" height="7.4" fill="#7FC97F"/>
<text x="645" y="441.2" font-size="5.7" fill="#000" stroke="#000" stroke-width="0.18" stroke-opacity="0.6">me3</text>
<rect x="661" y="435" width="8" height="7.4" fill="#EC3A2B"/>
<text x="673" y="441.2" font-size="5.7" fill="#000" stroke="#000" stroke-width="0.18" stroke-opacity="0.6">ac</text>
<line x1="549.6" y1="451" x2="549.6" y2="572" stroke="#EBEBEB" stroke-width="0.6"/>
<line x1="572" y1="451" x2="572" y2="572" stroke="#EBEBEB" stroke-width="0.6"/>
<line x1="595" y1="451" x2="595" y2="572" stroke="#EBEBEB" stroke-width="0.6"/>
<line x1="617.6" y1="451" x2="617.6" y2="572" stroke="#EBEBEB" stroke-width="0.6"/>
<line x1="640.4" y1="451" x2="640.4" y2="572" stroke="#EBEBEB" stroke-width="0.6"/>
<line x1="663.4" y1="451" x2="663.4" y2="572" stroke="#EBEBEB" stroke-width="0.6"/>
<line x1="535.5" y1="566.6" x2="676" y2="566.6" stroke="#EBEBEB" stroke-width="0.7"/>
<line x1="533.3" y1="566.5" x2="535.5" y2="566.5" stroke="#000" stroke-width="1"/>
<text x="532.3" y="568.98" font-size="6.8" text-anchor="end" fill="#000" stroke="#000" stroke-width="0.18" stroke-opacity="0.6">0.0</text>
<line x1="535.5" y1="540.55" x2="676" y2="540.55" stroke="#EBEBEB" stroke-width="0.7"/>
<line x1="533.3" y1="540.5" x2="535.5" y2="540.5" stroke="#000" stroke-width="1"/>
<text x="532.3" y="542.93" font-size="6.8" text-anchor="end" fill="#000" stroke="#000" stroke-width="0.18" stroke-opacity="0.6">0.2</text>
<line x1="535.5" y1="514.5" x2="676" y2="514.5" stroke="#EBEBEB" stroke-width="0.7"/>
<line x1="533.3" y1="514.5" x2="535.5" y2="514.5" stroke="#000" stroke-width="1"/>
<text x="532.3" y="516.88" font-size="6.8" text-anchor="end" fill="#000" stroke="#000" stroke-width="0.18" stroke-opacity="0.6">0.4</text>
<line x1="535.5" y1="488.45" x2="676" y2="488.45" stroke="#EBEBEB" stroke-width="0.7"/>
<line x1="533.3" y1="488.5" x2="535.5" y2="488.5" stroke="#000" stroke-width="1"/>
<text x="532.3" y="490.83" font-size="6.8" text-anchor="end" fill="#000" stroke="#000" stroke-width="0.18" stroke-opacity="0.6">0.6</text>
<line x1="535.5" y1="462.4" x2="676" y2="462.4" stroke="#EBEBEB" stroke-width="0.7"/>
<line x1="533.3" y1="462.5" x2="535.5" y2="462.5" stroke="#000" stroke-width="1"/>
<text x="532.3" y="464.78" font-size="6.8" text-anchor="end" fill="#000" stroke="#000" stroke-width="0.18" stroke-opacity="0.6">0.8</text>
<rect x="539.4" y="554.62" width="20.4" height="11.98" fill="#3A6BAF"/>
<rect x="561.8" y="540.55" width="20.4" height="26.05" fill="#7FC97F"/>
<rect x="561.8" y="480.77" width="20.4" height="59.78" fill="#FBB163"/>
<rect x="561.8" y="460.19" width="20.4" height="20.58" fill="#3A6BAF"/>
<rect x="584.8" y="502.78" width="20.4" height="63.82" fill="#EC3A2B"/>
<rect x="607.4" y="553.97" width="20.4" height="12.63" fill="#EC3A2B"/>
<rect x="630.2" y="543.02" width="20.4" height="23.58" fill="#EC3A2B"/>
<rect x="653.2" y="501.21" width="20.4" height="65.39" fill="#FBB163"/>
<line x1="549.6" y1="550" x2="549.6" y2="559.6" stroke="#222" stroke-width="0.8"/>
<line x1="547.4" y1="550" x2="551.8" y2="550" stroke="#222" stroke-width="0.8"/>
<line x1="547.4" y1="559.6" x2="551.8" y2="559.6" stroke="#222" stroke-width="0.8"/>
<line x1="572" y1="456.4" x2="572" y2="463.6" stroke="#222" stroke-width="0.8"/>
<line x1="569.8" y1="456.4" x2="574.2" y2="456.4" stroke="#222" stroke-width="0.8"/>
<line x1="569.8" y1="463.6" x2="574.2" y2="463.6" stroke="#222" stroke-width="0.8"/>
<line x1="572" y1="475.4" x2="572" y2="485.4" stroke="#222" stroke-width="0.8"/>
<line x1="569.8" y1="475.4" x2="574.2" y2="475.4" stroke="#222" stroke-width="0.8"/>
<line x1="569.8" y1="485.4" x2="574.2" y2="485.4" stroke="#222" stroke-width="0.8"/>
<line x1="572" y1="538" x2="572" y2="542.6" stroke="#222" stroke-width="0.8"/>
<line x1="569.8" y1="538" x2="574.2" y2="538" stroke="#222" stroke-width="0.8"/>
<line x1="569.8" y1="542.6" x2="574.2" y2="542.6" stroke="#222" stroke-width="0.8"/>
<line x1="595" y1="498.4" x2="595" y2="507.4" stroke="#222" stroke-width="0.8"/>
<line x1="592.8" y1="498.4" x2="597.2" y2="498.4" stroke="#222" stroke-width="0.8"/>
<line x1="592.8" y1="507.4" x2="597.2" y2="507.4" stroke="#222" stroke-width="0.8"/>
<line x1="617.6" y1="550.6" x2="617.6" y2="557" stroke="#222" stroke-width="0.8"/>
<line x1="615.4" y1="550.6" x2="619.8" y2="550.6" stroke="#222" stroke-width="0.8"/>
<line x1="615.4" y1="557" x2="619.8" y2="557" stroke="#222" stroke-width="0.8"/>
<line x1="640.4" y1="538.4" x2="640.4" y2="546" stroke="#222" stroke-width="0.8"/>
<line x1="638.2" y1="538.4" x2="642.6" y2="538.4" stroke="#222" stroke-width="0.8"/>
<line x1="638.2" y1="546" x2="642.6" y2="546" stroke="#222" stroke-width="0.8"/>
<line x1="663.4" y1="488.6" x2="663.4" y2="513.4" stroke="#222" stroke-width="0.8"/>
<line x1="661.2" y1="488.6" x2="665.6" y2="488.6" stroke="#222" stroke-width="0.8"/>
<line x1="661.2" y1="513.4" x2="665.6" y2="513.4" stroke="#222" stroke-width="0.8"/>
<line x1="535.5" y1="451" x2="535.5" y2="572.5" stroke="#000" stroke-width="1"/>
<line x1="535" y1="572" x2="676" y2="572" stroke="#000" stroke-width="1"/>
<line x1="549.5" y1="572" x2="549.5" y2="574.2" stroke="#000" stroke-width="0.9"/>
<text x="549.6" y="581" font-size="6.8" text-anchor="middle" fill="#000" stroke="#000" stroke-width="0.18" stroke-opacity="0.6">K4</text>
<line x1="572.5" y1="572" x2="572.5" y2="574.2" stroke="#000" stroke-width="0.9"/>
<text x="572" y="581" font-size="6.8" text-anchor="middle" fill="#000" stroke="#000" stroke-width="0.18" stroke-opacity="0.6">K9</text>
<line x1="595.5" y1="572" x2="595.5" y2="574.2" stroke="#000" stroke-width="0.9"/>
<text x="595" y="581" font-size="6.8" text-anchor="middle" fill="#000" stroke="#000" stroke-width="0.18" stroke-opacity="0.6">K14</text>
<line x1="617.5" y1="572" x2="617.5" y2="574.2" stroke="#000" stroke-width="0.9"/>
<text x="617.6" y="581" font-size="6.8" text-anchor="middle" fill="#000" stroke="#000" stroke-width="0.18" stroke-opacity="0.6">K18</text>
<line x1="640.5" y1="572" x2="640.5" y2="574.2" stroke="#000" stroke-width="0.9"/>
<text x="640.4" y="581" font-size="6.8" text-anchor="middle" fill="#000" stroke="#000" stroke-width="0.18" stroke-opacity="0.6">K23</text>
<line x1="663.5" y1="572" x2="663.5" y2="574.2" stroke="#000" stroke-width="0.9"/>
<text x="663.4" y="581" font-size="6.8" text-anchor="middle" fill="#000" stroke="#000" stroke-width="0.18" stroke-opacity="0.6">K27</text>
<text x="606.4" y="592.2" font-size="8" font-weight="bold" text-anchor="middle" fill="#000" stroke="#000" stroke-width="0.18" stroke-opacity="0.6">H3 Amino Acid Position</text>
<text x="504.5" y="513" font-size="15.6" text-anchor="middle" fill="#000" transform="rotate(-90 504.5 513)">Single-cells</text>
<text x="518.2" y="511.5" font-size="7.9" font-weight="bold" text-anchor="middle" fill="#000" stroke="#000" stroke-width="0.18" stroke-opacity="0.6" transform="rotate(-90 518.2 511.5)">Relative Abundance</text>
<line x1="552.4" y1="605.5" x2="552.4" y2="727" stroke="#EBEBEB" stroke-width="0.6"/>
<line x1="574.4" y1="605.5" x2="574.4" y2="727" stroke="#EBEBEB" stroke-width="0.6"/>
<line x1="596.2" y1="605.5" x2="596.2" y2="727" stroke="#EBEBEB" stroke-width="0.6"/>
<line x1="618.2" y1="605.5" x2="618.2" y2="727" stroke="#EBEBEB" stroke-width="0.6"/>
<line x1="640.4" y1="605.5" x2="640.4" y2="727" stroke="#EBEBEB" stroke-width="0.6"/>
<line x1="662.2" y1="605.5" x2="662.2" y2="727" stroke="#EBEBEB" stroke-width="0.6"/>
<line x1="539.5" y1="611.4" x2="675" y2="611.4" stroke="#EBEBEB" stroke-width="0.7"/>
<line x1="537.3" y1="611.5" x2="539.5" y2="611.5" stroke="#000" stroke-width="1"/>
<text x="536.3" y="613.78" font-size="6.8" text-anchor="end" fill="#000" stroke="#000" stroke-width="0.18" stroke-opacity="0.6">0</text>
<line x1="539.5" y1="637.4" x2="675" y2="637.4" stroke="#EBEBEB" stroke-width="0.7"/>
<line x1="537.3" y1="637.5" x2="539.5" y2="637.5" stroke="#000" stroke-width="1"/>
<text x="536.3" y="639.78" font-size="6.8" text-anchor="end" fill="#000" stroke="#000" stroke-width="0.18" stroke-opacity="0.6">0.2</text>
<line x1="539.5" y1="663.4" x2="675" y2="663.4" stroke="#EBEBEB" stroke-width="0.7"/>
<line x1="537.3" y1="663.5" x2="539.5" y2="663.5" stroke="#000" stroke-width="1"/>
<text x="536.3" y="665.78" font-size="6.8" text-anchor="end" fill="#000" stroke="#000" stroke-width="0.18" stroke-opacity="0.6">0.4</text>
<line x1="539.5" y1="689.4" x2="675" y2="689.4" stroke="#EBEBEB" stroke-width="0.7"/>
<line x1="537.3" y1="689.5" x2="539.5" y2="689.5" stroke="#000" stroke-width="1"/>
<text x="536.3" y="691.78" font-size="6.8" text-anchor="end" fill="#000" stroke="#000" stroke-width="0.18" stroke-opacity="0.6">0.6</text>
<line x1="539.5" y1="715.4" x2="675" y2="715.4" stroke="#EBEBEB" stroke-width="0.7"/>
<line x1="537.3" y1="715.5" x2="539.5" y2="715.5" stroke="#000" stroke-width="1"/>
<text x="536.3" y="717.78" font-size="6.8" text-anchor="end" fill="#000" stroke="#000" stroke-width="0.18" stroke-opacity="0.6">0.8</text>
<rect x="542.6" y="611.4" width="19.6" height="12.61" fill="#3A6BAF"/>
<rect x="564.6" y="611.4" width="19.6" height="27.04" fill="#7FC97F"/>
<rect x="564.6" y="638.44" width="19.6" height="63.83" fill="#FBB163"/>
<rect x="564.6" y="702.27" width="19.6" height="18.46" fill="#3A6BAF"/>
<rect x="586.4" y="611.4" width="19.6" height="67.21" fill="#EC3A2B"/>
<rect x="608.4" y="611.4" width="19.6" height="18.07" fill="#EC3A2B"/>
<rect x="630.6" y="611.4" width="19.6" height="37.96" fill="#EC3A2B"/>
<rect x="652.4" y="611.4" width="19.6" height="50.18" fill="#FBB163"/>
<line x1="552.4" y1="623.2" x2="552.4" y2="625.6" stroke="#222" stroke-width="0.8"/>
<line x1="550.4" y1="623.2" x2="554.4" y2="623.2" stroke="#222" stroke-width="0.8"/>
<line x1="550.4" y1="625.6" x2="554.4" y2="625.6" stroke="#222" stroke-width="0.8"/>
<line x1="574.4" y1="637.8" x2="574.4" y2="639" stroke="#222" stroke-width="0.8"/>
<line x1="572.4" y1="637.8" x2="576.4" y2="637.8" stroke="#222" stroke-width="0.8"/>
<line x1="572.4" y1="639" x2="576.4" y2="639" stroke="#222" stroke-width="0.8"/>
<line x1="574.4" y1="701.4" x2="574.4" y2="702.8" stroke="#222" stroke-width="0.8"/>
<line x1="572.4" y1="701.4" x2="576.4" y2="701.4" stroke="#222" stroke-width="0.8"/>
<line x1="572.4" y1="702.8" x2="576.4" y2="702.8" stroke="#222" stroke-width="0.8"/>
<line x1="574.4" y1="720" x2="574.4" y2="721.4" stroke="#222" stroke-width="0.8"/>
<line x1="572.4" y1="720" x2="576.4" y2="720" stroke="#222" stroke-width="0.8"/>
<line x1="572.4" y1="721.4" x2="576.4" y2="721.4" stroke="#222" stroke-width="0.8"/>
<line x1="596.2" y1="677.8" x2="596.2" y2="679.6" stroke="#222" stroke-width="0.8"/>
<line x1="594.2" y1="677.8" x2="598.2" y2="677.8" stroke="#222" stroke-width="0.8"/>
<line x1="594.2" y1="679.6" x2="598.2" y2="679.6" stroke="#222" stroke-width="0.8"/>
<line x1="618.2" y1="628.4" x2="618.2" y2="631.2" stroke="#222" stroke-width="0.8"/>
<line x1="616.2" y1="628.4" x2="620.2" y2="628.4" stroke="#222" stroke-width="0.8"/>
<line x1="616.2" y1="631.2" x2="620.2" y2="631.2" stroke="#222" stroke-width="0.8"/>
<line x1="640.4" y1="648.2" x2="640.4" y2="650.8" stroke="#222" stroke-width="0.8"/>
<line x1="638.4" y1="648.2" x2="642.4" y2="648.2" stroke="#222" stroke-width="0.8"/>
<line x1="638.4" y1="650.8" x2="642.4" y2="650.8" stroke="#222" stroke-width="0.8"/>
<line x1="662.2" y1="636.4" x2="662.2" y2="687.4" stroke="#222" stroke-width="0.8"/>
<line x1="660.2" y1="636.4" x2="664.2" y2="636.4" stroke="#222" stroke-width="0.8"/>
<line x1="660.2" y1="687.4" x2="664.2" y2="687.4" stroke="#222" stroke-width="0.8"/>
<line x1="539.5" y1="605" x2="539.5" y2="727" stroke="#000" stroke-width="1"/>
<line x1="539" y1="605.5" x2="675" y2="605.5" stroke="#000" stroke-width="1"/>
<line x1="552.5" y1="603.3" x2="552.5" y2="605.5" stroke="#000" stroke-width="0.9"/>
<text x="552.4" y="602.4" font-size="6.8" text-anchor="middle" fill="#000" stroke="#000" stroke-width="0.18" stroke-opacity="0.6">K4</text>
<line x1="574.5" y1="603.3" x2="574.5" y2="605.5" stroke="#000" stroke-width="0.9"/>
<text x="574.4" y="602.4" font-size="6.8" text-anchor="middle" fill="#000" stroke="#000" stroke-width="0.18" stroke-opacity="0.6">K9</text>
<line x1="596.5" y1="603.3" x2="596.5" y2="605.5" stroke="#000" stroke-width="0.9"/>
<text x="596.2" y="602.4" font-size="6.8" text-anchor="middle" fill="#000" stroke="#000" stroke-width="0.18" stroke-opacity="0.6">K14</text>
<line x1="618.5" y1="603.3" x2="618.5" y2="605.5" stroke="#000" stroke-width="0.9"/>
<text x="618.2" y="602.4" font-size="6.8" text-anchor="middle" fill="#000" stroke="#000" stroke-width="0.18" stroke-opacity="0.6">K18</text>
<line x1="640.5" y1="603.3" x2="640.5" y2="605.5" stroke="#000" stroke-width="0.9"/>
<text x="640.4" y="602.4" font-size="6.8" text-anchor="middle" fill="#000" stroke="#000" stroke-width="0.18" stroke-opacity="0.6">K23</text>
<line x1="662.5" y1="603.3" x2="662.5" y2="605.5" stroke="#000" stroke-width="0.9"/>
<text x="662.2" y="602.4" font-size="6.8" text-anchor="middle" fill="#000" stroke="#000" stroke-width="0.18" stroke-opacity="0.6">K27</text>
<text x="507.3" y="665" font-size="15.6" text-anchor="middle" fill="#000" transform="rotate(-90 507.3 665)">100-cell Bulk</text>
<text x="521.7" y="666" font-size="7.9" font-weight="bold" text-anchor="middle" fill="#000" stroke="#000" stroke-width="0.18" stroke-opacity="0.6" transform="rotate(-90 521.7 666)">Relative Abundance</text>
</svg>
</body></html>
